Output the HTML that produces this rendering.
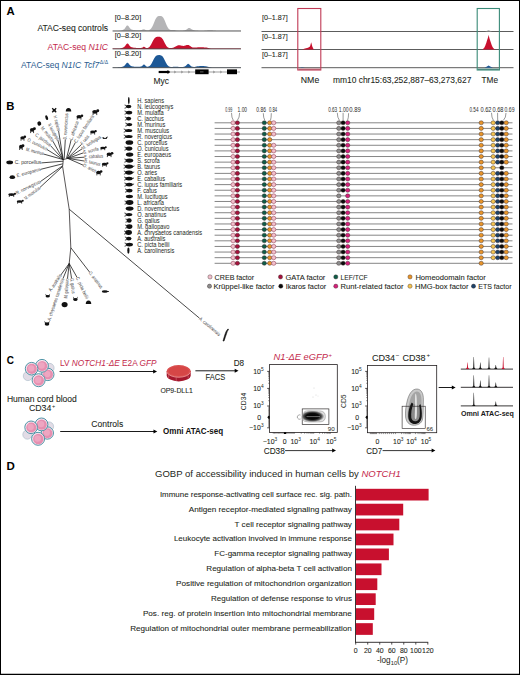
<!DOCTYPE html>
<html><head><meta charset="utf-8"><title>Figure</title>
<style>
html,body{margin:0;padding:0;background:#fff;}
body{width:520px;height:675px;overflow:hidden;}
svg{display:block;font-family:"Liberation Sans", sans-serif;}
</style></head><body>
<svg width="520" height="675" viewBox="0 0 520 675">
<rect x="0" y="0" width="520" height="675" fill="#fff"/>
<text x="6.60" y="14.60" font-size="11.3" fill="#000" font-weight="bold">A</text>
<text x="108.10" y="31.40" font-size="8.5" fill="#231f20" stroke="#231f20" stroke-width="0.08" text-anchor="end" textLength="70.70" lengthAdjust="spacingAndGlyphs">ATAC-seq controls</text>
<text x="108.1" y="49.9" font-size="8.5" fill="#c3284a" text-anchor="end" textLength="60.5" lengthAdjust="spacingAndGlyphs">ATAC-seq <tspan font-style="italic">N1IC</tspan></text>
<text x="21.0" y="67.9" font-size="8.4" fill="#2a5d8f" textLength="78.4" lengthAdjust="spacingAndGlyphs">ATAC-seq <tspan font-style="italic">N1IC Tcf7</tspan></text>
<text x="99.80" y="64.30" font-size="5.6" fill="#2a5d8f" textLength="8.30" lengthAdjust="spacingAndGlyphs">Δ/Δ</text>
<text x="114.80" y="19.60" font-size="7.7" fill="#231f20" stroke="#231f20" stroke-width="0.08" textLength="26.40" lengthAdjust="spacingAndGlyphs">[0–8.20]</text>
<text x="114.80" y="37.70" font-size="7.7" fill="#231f20" stroke="#231f20" stroke-width="0.08" textLength="26.40" lengthAdjust="spacingAndGlyphs">[0–8.20]</text>
<text x="114.80" y="56.30" font-size="7.7" fill="#231f20" stroke="#231f20" stroke-width="0.08" textLength="26.40" lengthAdjust="spacingAndGlyphs">[0–8.20]</text>
<polygon points="112.60,31.00 112.60,30.70 113.10,30.70 113.60,30.70 114.10,30.70 114.60,30.70 115.10,30.70 115.60,30.70 116.10,30.70 116.60,30.70 117.10,30.69 117.60,30.69 118.10,30.68 118.60,30.67 119.10,30.65 119.60,30.62 120.10,30.58 120.60,30.52 121.10,30.45 121.60,30.34 122.10,30.21 122.60,30.04 123.10,29.83 123.60,29.55 124.10,29.18 124.60,28.69 125.10,28.06 125.60,27.32 126.10,26.54 126.60,25.87 127.10,25.45 127.60,25.40 128.10,25.72 128.60,26.32 129.10,27.05 129.60,27.77 130.10,28.38 130.60,28.85 131.10,29.19 131.60,29.45 132.10,29.63 132.60,29.77 133.10,29.88 133.60,29.97 134.10,30.04 134.60,30.09 135.10,30.12 135.60,30.15 136.10,30.17 136.60,30.18 137.10,30.18 137.60,30.19 138.10,30.19 138.60,30.19 139.10,30.18 139.60,30.17 140.10,30.14 140.60,30.09 141.10,30.01 141.60,29.88 142.10,29.72 142.60,29.55 143.10,29.41 143.60,29.34 144.10,29.37 144.60,29.50 145.10,29.69 145.60,29.89 146.10,30.07 146.60,30.20 147.10,30.27 147.60,30.29 148.10,30.26 148.60,30.19 149.10,30.05 149.60,29.84 150.10,29.54 150.60,29.12 151.10,28.57 151.60,27.87 152.10,27.01 152.60,26.02 153.10,24.90 153.60,23.71 154.10,22.48 154.60,21.27 155.10,20.12 155.60,19.08 156.10,18.19 156.60,17.45 157.10,16.87 157.60,16.45 158.10,16.17 158.60,16.00 159.10,15.92 159.60,15.90 160.10,15.90 160.60,15.93 161.10,16.03 161.60,16.21 162.10,16.52 162.60,16.97 163.10,17.58 163.60,18.35 164.10,19.28 164.60,20.34 165.10,21.51 165.60,22.73 166.10,23.95 166.60,25.13 167.10,26.22 167.60,27.19 168.10,28.01 168.60,28.66 169.10,29.17 169.60,29.53 170.10,29.77 170.60,29.90 171.10,29.96 171.60,29.97 172.10,29.95 172.60,29.93 173.10,29.92 173.60,29.93 174.10,29.97 174.60,30.05 175.10,30.14 175.60,30.25 176.10,30.35 176.60,30.44 177.10,30.51 177.60,30.57 178.10,30.60 178.60,30.62 179.10,30.63 179.60,30.62 180.10,30.61 180.60,30.59 181.10,30.56 181.60,30.53 182.10,30.49 182.60,30.44 183.10,30.38 183.60,30.32 184.10,30.24 184.60,30.15 185.10,30.04 185.60,29.89 186.10,29.68 186.60,29.41 187.10,29.07 187.60,28.68 188.10,28.32 188.60,28.03 189.10,27.90 189.60,27.96 190.10,28.19 190.60,28.53 191.10,28.92 191.60,29.28 192.10,29.58 192.60,29.81 193.10,29.99 193.60,30.11 194.10,30.21 194.60,30.29 195.10,30.36 195.60,30.42 196.10,30.47 196.60,30.52 197.10,30.56 197.60,30.59 198.10,30.62 198.60,30.64 199.10,30.65 199.60,30.66 200.10,30.67 200.60,30.68 201.10,30.68 201.60,30.68 202.10,30.68 202.60,30.67 203.10,30.66 203.60,30.65 204.10,30.63 204.60,30.60 205.10,30.57 205.60,30.53 206.10,30.49 206.60,30.44 207.10,30.39 207.60,30.34 208.10,30.29 208.60,30.25 209.10,30.22 209.60,30.20 210.10,30.20 210.60,30.21 211.10,30.23 211.60,30.27 212.10,30.31 212.60,30.36 213.10,30.41 213.60,30.46 214.10,30.50 214.60,30.55 215.10,30.58 215.60,30.61 216.10,30.64 216.60,30.66 217.10,30.67 217.60,30.68 218.10,30.69 218.60,30.69 219.10,30.69 219.60,30.70 220.10,30.70 220.60,30.70 221.10,30.70 221.60,30.70 222.10,30.70 222.60,30.70 223.10,30.70 223.60,30.70 224.10,30.70 224.60,30.70 225.10,30.70 225.60,30.70 226.10,30.70 226.60,30.70 227.10,30.70 227.60,30.70 228.10,30.70 228.60,30.70 229.10,30.70 229.60,30.70 230.10,30.70 230.60,30.70 231.10,30.70 231.60,30.70 232.10,30.70 232.60,30.70 233.10,30.70 233.60,30.70 234.10,30.70 234.60,30.70 235.10,30.70 235.60,30.70 236.10,30.70 236.60,30.70 237.10,30.70 237.60,30.70 238.10,30.70 238.60,30.70 239.10,30.70 239.60,30.70 240.10,30.70 240.60,30.70 241.00,31.00" fill="#b4b4b6" stroke="none" stroke-width="0"/>
<polygon points="112.60,48.90 112.60,48.55 113.10,48.55 113.60,48.55 114.10,48.55 114.60,48.55 115.10,48.55 115.60,48.55 116.10,48.55 116.60,48.54 117.10,48.54 117.60,48.53 118.10,48.52 118.60,48.50 119.10,48.47 119.60,48.43 120.10,48.38 120.60,48.31 121.10,48.22 121.60,48.10 122.10,47.96 122.60,47.79 123.10,47.57 123.60,47.30 124.10,46.95 124.60,46.49 125.10,45.91 125.60,45.22 126.10,44.51 126.60,43.89 127.10,43.52 127.60,43.48 128.10,43.79 128.60,44.36 129.10,45.05 129.60,45.72 130.10,46.28 130.60,46.70 131.10,47.00 131.60,47.21 132.10,47.36 132.60,47.48 133.10,47.57 133.60,47.66 134.10,47.72 134.60,47.78 135.10,47.83 135.60,47.86 136.10,47.89 136.60,47.91 137.10,47.92 137.60,47.93 138.10,47.93 138.60,47.93 139.10,47.94 139.60,47.94 140.10,47.95 140.60,47.96 141.10,47.94 141.60,47.85 142.10,47.67 142.60,47.38 143.10,47.04 143.60,46.78 144.10,46.73 144.60,46.93 145.10,47.28 145.60,47.65 146.10,47.92 146.60,48.05 147.10,48.06 147.60,47.97 148.10,47.79 148.60,47.53 149.10,47.16 149.60,46.67 150.10,46.06 150.60,45.32 151.10,44.47 151.60,43.53 152.10,42.55 152.60,41.56 153.10,40.61 153.60,39.73 154.10,38.96 154.60,38.31 155.10,37.79 155.60,37.40 156.10,37.12 156.60,36.93 157.10,36.82 157.60,36.77 158.10,36.75 158.60,36.75 159.10,36.77 159.60,36.82 160.10,36.94 160.60,37.13 161.10,37.43 161.60,37.84 162.10,38.38 162.60,39.05 163.10,39.85 163.60,40.74 164.10,41.70 164.60,42.69 165.10,43.66 165.60,44.59 166.10,45.42 166.60,46.13 167.10,46.72 167.60,47.17 168.10,47.51 168.60,47.75 169.10,47.91 169.60,48.01 170.10,48.06 170.60,48.08 171.10,48.06 171.60,48.01 172.10,47.92 172.60,47.81 173.10,47.66 173.60,47.48 174.10,47.26 174.60,47.02 175.10,46.75 175.60,46.47 176.10,46.20 176.60,45.93 177.10,45.69 177.60,45.50 178.10,45.35 178.60,45.25 179.10,45.21 179.60,45.23 180.10,45.30 180.60,45.40 181.10,45.53 181.60,45.66 182.10,45.78 182.60,45.87 183.10,45.92 183.60,45.92 184.10,45.85 184.60,45.73 185.10,45.57 185.60,45.38 186.10,45.19 186.60,45.03 187.10,44.92 187.60,44.89 188.10,44.95 188.60,45.11 189.10,45.35 189.60,45.66 190.10,46.01 190.60,46.37 191.10,46.71 191.60,47.00 192.10,47.23 192.60,47.40 193.10,47.51 193.60,47.56 194.10,47.57 194.60,47.55 195.10,47.52 195.60,47.48 196.10,47.44 196.60,47.41 197.10,47.39 197.60,47.37 198.10,47.36 198.60,47.35 199.10,47.35 199.60,47.35 200.10,47.35 200.60,47.35 201.10,47.35 201.60,47.35 202.10,47.35 202.60,47.35 203.10,47.36 203.60,47.36 204.10,47.38 204.60,47.40 205.10,47.43 205.60,47.47 206.10,47.53 206.60,47.61 207.10,47.69 207.60,47.79 208.10,47.90 208.60,48.02 209.10,48.13 209.60,48.23 210.10,48.33 210.60,48.40 211.10,48.46 211.60,48.49 212.10,48.52 212.60,48.54 213.10,48.54 213.60,48.55 214.10,48.55 214.60,48.55 215.10,48.55 215.60,48.55 216.10,48.55 216.60,48.55 217.10,48.55 217.60,48.55 218.10,48.55 218.60,48.55 219.10,48.55 219.60,48.55 220.10,48.55 220.60,48.55 221.10,48.55 221.60,48.55 222.10,48.55 222.60,48.55 223.10,48.55 223.60,48.55 224.10,48.55 224.60,48.55 225.10,48.55 225.60,48.55 226.10,48.55 226.60,48.55 227.10,48.55 227.60,48.55 228.10,48.55 228.60,48.55 229.10,48.55 229.60,48.55 230.10,48.55 230.60,48.55 231.10,48.55 231.60,48.55 232.10,48.55 232.60,48.55 233.10,48.55 233.60,48.55 234.10,48.55 234.60,48.55 235.10,48.55 235.60,48.55 236.10,48.55 236.60,48.55 237.10,48.55 237.60,48.55 238.10,48.55 238.60,48.55 239.10,48.55 239.60,48.55 240.10,48.55 240.60,48.55 241.00,48.90" fill="#c8102e" stroke="none" stroke-width="0"/>
<polygon points="112.60,67.70 112.60,67.40 113.10,67.40 113.60,67.40 114.10,67.40 114.60,67.40 115.10,67.40 115.60,67.40 116.10,67.40 116.60,67.39 117.10,67.39 117.60,67.38 118.10,67.37 118.60,67.35 119.10,67.33 119.60,67.29 120.10,67.24 120.60,67.18 121.10,67.10 121.60,66.99 122.10,66.86 122.60,66.70 123.10,66.51 123.60,66.26 124.10,65.93 124.60,65.51 125.10,64.98 125.60,64.34 126.10,63.68 126.60,63.11 127.10,62.76 127.60,62.73 128.10,63.01 128.60,63.54 129.10,64.18 129.60,64.81 130.10,65.33 130.60,65.72 131.10,66.00 131.60,66.20 132.10,66.35 132.60,66.46 133.10,66.55 133.60,66.62 134.10,66.69 134.60,66.74 135.10,66.78 135.60,66.81 136.10,66.83 136.60,66.83 137.10,66.83 137.60,66.82 138.10,66.80 138.60,66.77 139.10,66.73 139.60,66.69 140.10,66.64 140.60,66.58 141.10,66.47 141.60,66.27 142.10,65.93 142.60,65.45 143.10,64.91 143.60,64.51 144.10,64.42 144.60,64.69 145.10,65.21 145.60,65.77 146.10,66.22 146.60,66.50 147.10,66.64 147.60,66.67 148.10,66.62 148.60,66.51 149.10,66.31 149.60,66.01 150.10,65.58 150.60,65.01 151.10,64.31 151.60,63.48 152.10,62.54 152.60,61.53 153.10,60.50 153.60,59.48 154.10,58.54 154.60,57.68 155.10,56.95 155.60,56.36 156.10,55.90 156.60,55.56 157.10,55.34 157.60,55.20 158.10,55.13 158.60,55.10 159.10,55.10 159.60,55.11 160.10,55.15 160.60,55.25 161.10,55.42 161.60,55.68 162.10,56.07 162.60,56.58 163.10,57.23 163.60,58.01 164.10,58.91 164.60,59.89 165.10,60.92 165.60,61.95 166.10,62.94 166.60,63.85 167.10,64.64 167.60,65.31 168.10,65.83 168.60,66.23 169.10,66.52 169.60,66.71 170.10,66.83 170.60,66.90 171.10,66.93 171.60,66.94 172.10,66.93 172.60,66.90 173.10,66.87 173.60,66.83 174.10,66.80 174.60,66.77 175.10,66.75 175.60,66.74 176.10,66.74 176.60,66.76 177.10,66.78 177.60,66.82 178.10,66.87 178.60,66.91 179.10,66.96 179.60,67.00 180.10,67.03 180.60,67.04 181.10,67.05 181.60,67.03 182.10,67.01 182.60,66.96 183.10,66.90 183.60,66.82 184.10,66.69 184.60,66.52 185.10,66.25 185.60,65.89 186.10,65.43 186.60,64.90 187.10,64.38 187.60,63.99 188.10,63.81 188.60,63.88 189.10,64.21 189.60,64.69 190.10,65.22 190.60,65.72 191.10,66.13 191.60,66.43 192.10,66.64 192.60,66.78 193.10,66.87 193.60,66.91 194.10,66.91 194.60,66.88 195.10,66.81 195.60,66.71 196.10,66.60 196.60,66.48 197.10,66.37 197.60,66.28 198.10,66.21 198.60,66.16 199.10,66.13 199.60,66.11 200.10,66.10 200.60,66.09 201.10,66.09 201.60,66.10 202.10,66.10 202.60,66.10 203.10,66.10 203.60,66.10 204.10,66.11 204.60,66.13 205.10,66.17 205.60,66.22 206.10,66.29 206.60,66.39 207.10,66.51 207.60,66.65 208.10,66.80 208.60,66.95 209.10,67.09 209.60,67.20 210.10,67.28 210.60,67.34 211.10,67.37 211.60,67.39 212.10,67.40 212.60,67.40 213.10,67.40 213.60,67.40 214.10,67.40 214.60,67.40 215.10,67.40 215.60,67.40 216.10,67.40 216.60,67.40 217.10,67.40 217.60,67.40 218.10,67.40 218.60,67.40 219.10,67.40 219.60,67.40 220.10,67.40 220.60,67.40 221.10,67.40 221.60,67.40 222.10,67.40 222.60,67.40 223.10,67.40 223.60,67.40 224.10,67.40 224.60,67.40 225.10,67.40 225.60,67.40 226.10,67.40 226.60,67.40 227.10,67.40 227.60,67.40 228.10,67.40 228.60,67.40 229.10,67.40 229.60,67.40 230.10,67.40 230.60,67.40 231.10,67.40 231.60,67.40 232.10,67.40 232.60,67.40 233.10,67.40 233.60,67.40 234.10,67.40 234.60,67.40 235.10,67.40 235.60,67.40 236.10,67.40 236.60,67.40 237.10,67.40 237.60,67.40 238.10,67.40 238.60,67.40 239.10,67.40 239.60,67.40 240.10,67.40 240.60,67.40 241.00,67.70" fill="#1d5896" stroke="none" stroke-width="0"/>
<line x1="112.60" y1="31.00" x2="241.00" y2="31.00" stroke="#4a4a4a" stroke-width="0.9"/>
<line x1="112.60" y1="48.90" x2="241.00" y2="48.90" stroke="#4a4a4a" stroke-width="0.9"/>
<line x1="112.60" y1="67.70" x2="241.00" y2="67.70" stroke="#4a4a4a" stroke-width="0.9"/>
<line x1="158.70" y1="72.00" x2="240.00" y2="72.00" stroke="#777" stroke-width="0.7"/>
<path d="M174.0,70.9 L175.6,72 L174.0,73.1" fill="none" stroke="#555" stroke-width="0.5"/>
<path d="M181.0,70.9 L182.6,72 L181.0,73.1" fill="none" stroke="#555" stroke-width="0.5"/>
<path d="M188.0,70.9 L189.6,72 L188.0,73.1" fill="none" stroke="#555" stroke-width="0.5"/>
<path d="M213.0,70.9 L214.6,72 L213.0,73.1" fill="none" stroke="#555" stroke-width="0.5"/>
<path d="M220.0,70.9 L221.6,72 L220.0,73.1" fill="none" stroke="#555" stroke-width="0.5"/>
<rect x="158.7" y="70.9" width="10.5" height="2.2" fill="#000"/>
<path d="M167.5,70 L170.2,72 L167.5,74 Z" fill="#000"/>
<rect x="195.2" y="69.4" width="13.4" height="4.8" fill="#000"/>
<rect x="227.0" y="69.4" width="10.0" height="4.8" fill="#000"/>
<line x1="200.00" y1="71.90" x2="203.50" y2="71.90" stroke="#bbb" stroke-width="0.5"/>
<text x="153.50" y="83.50" font-size="8.4" fill="#231f20" stroke="#231f20" stroke-width="0.08" textLength="15.50" lengthAdjust="spacingAndGlyphs">Myc</text>
<line x1="261.50" y1="31.50" x2="513.50" y2="31.50" stroke="#4a4a4a" stroke-width="0.9"/>
<line x1="261.50" y1="49.50" x2="513.50" y2="49.50" stroke="#4a4a4a" stroke-width="0.9"/>
<line x1="261.50" y1="67.70" x2="513.50" y2="67.70" stroke="#4a4a4a" stroke-width="0.9"/>
<text x="261.90" y="20.30" font-size="7.7" fill="#231f20" stroke="#231f20" stroke-width="0.08" textLength="25.90" lengthAdjust="spacingAndGlyphs">[0–1.87]</text>
<text x="261.90" y="38.50" font-size="7.7" fill="#231f20" stroke="#231f20" stroke-width="0.08" textLength="25.90" lengthAdjust="spacingAndGlyphs">[0–1.87]</text>
<text x="261.90" y="56.70" font-size="7.7" fill="#231f20" stroke="#231f20" stroke-width="0.08" textLength="25.90" lengthAdjust="spacingAndGlyphs">[0–1.87]</text>
<polygon points="300.00,67.70 302.00,67.20 305.00,67.70 320.00,67.70" fill="#1d5896" stroke="none" stroke-width="0"/>
<polygon points="302.00,49.50 305.00,48.60 308.00,47.80 310.00,46.50 311.20,42.30 312.30,46.50 313.50,49.00 314.50,49.50" fill="#c8102e" stroke="none" stroke-width="0"/>
<polygon points="482.50,49.50 482.50,49.17 482.75,49.07 483.00,48.93 483.25,48.76 483.50,48.56 483.75,48.31 484.00,48.01 484.25,47.66 484.50,47.25 484.75,46.78 485.00,46.26 485.25,45.68 485.50,45.04 485.75,44.36 486.00,43.64 486.25,42.89 486.50,42.13 486.75,41.36 487.00,40.59 487.25,39.82 487.50,39.05 487.75,38.26 488.00,37.40 488.25,36.39 488.50,35.12 488.75,35.41 489.00,36.61 489.25,37.58 489.50,38.42 489.75,39.20 490.00,39.97 490.25,40.74 490.50,41.51 490.75,42.28 491.00,43.04 491.25,43.79 491.50,44.50 491.75,45.17 492.00,45.80 492.25,46.37 492.50,46.88 492.75,47.34 493.00,47.73 493.25,48.07 493.50,48.36 493.75,48.60 494.00,48.80 494.25,48.96 494.50,49.09 494.75,49.19 495.00,49.27 495.25,49.33 495.50,49.38 495.50,49.50" fill="#c8102e" stroke="none" stroke-width="0"/>
<polygon points="485.00,31.50 488.60,30.20 492.00,31.50" fill="#9a9a9a" stroke="none" stroke-width="0"/>
<polygon points="484.50,67.70 487.00,66.60 488.60,65.40 490.20,66.60 493.00,67.70" fill="#1d5896" stroke="none" stroke-width="0"/>
<rect x="297.8" y="8.5" width="23" height="61.5" fill="none" stroke="#c03a55" stroke-width="1.1"/>
<rect x="477.2" y="8.5" width="22.2" height="61.5" fill="none" stroke="#3a8a78" stroke-width="1.1"/>
<line x1="298.50" y1="69.20" x2="320.20" y2="69.20" stroke="#b25060" stroke-width="1.2"/>
<line x1="478.00" y1="69.20" x2="498.80" y2="69.20" stroke="#3a7a70" stroke-width="1.2"/>
<text x="300.80" y="82.50" font-size="8.4" fill="#231f20" stroke="#231f20" stroke-width="0.08" textLength="18.50" lengthAdjust="spacingAndGlyphs">NMe</text>
<text x="332.90" y="83.30" font-size="8.4" fill="#231f20" stroke="#231f20" stroke-width="0.08" textLength="138.50" lengthAdjust="spacingAndGlyphs">mm10 chr15:63,252,887–63,273,627</text>
<text x="481.50" y="82.50" font-size="8.3" fill="#231f20" stroke="#231f20" stroke-width="0.08" textLength="16.50" lengthAdjust="spacingAndGlyphs">TMe</text>
<text x="6.30" y="109.90" font-size="11.3" fill="#000" font-weight="bold">B</text>
<line x1="214.60" y1="122.80" x2="512.50" y2="122.80" stroke="#808080" stroke-width="0.95"/>
<ellipse cx="233.10" cy="122.80" rx="2.15" ry="2.05" fill="#f1bfcb" stroke="#9a4a5e" stroke-width="0.6"/>
<ellipse cx="237.40" cy="122.80" rx="2.15" ry="2.05" fill="#a5123c" stroke="#3a2a2a" stroke-width="0.45"/>
<ellipse cx="264.30" cy="122.80" rx="2.15" ry="2.05" fill="#0e5c48" stroke="#3a2a2a" stroke-width="0.45"/>
<ellipse cx="269.70" cy="122.80" rx="2.15" ry="2.05" fill="#e8952a" stroke="#3a2a2a" stroke-width="0.45"/>
<ellipse cx="273.70" cy="122.80" rx="2.15" ry="2.05" fill="#f1bfcb" stroke="#9a4a5e" stroke-width="0.6"/>
<ellipse cx="338.80" cy="122.80" rx="2.15" ry="2.05" fill="#8c8c8c" stroke="#3a2a2a" stroke-width="0.45"/>
<ellipse cx="343.10" cy="122.80" rx="2.15" ry="2.05" fill="#0a0a0a" stroke="#3a2a2a" stroke-width="0.45"/>
<ellipse cx="347.70" cy="122.80" rx="2.15" ry="2.05" fill="#d4207a" stroke="#3a2a2a" stroke-width="0.45"/>
<ellipse cx="481.20" cy="122.80" rx="2.15" ry="2.05" fill="#e8952a" stroke="#3a2a2a" stroke-width="0.45"/>
<ellipse cx="493.20" cy="122.80" rx="2.15" ry="2.05" fill="#f3c350" stroke="#3a2a2a" stroke-width="0.45"/>
<ellipse cx="497.70" cy="122.80" rx="2.15" ry="2.05" fill="#1c4269" stroke="#3a2a2a" stroke-width="0.45"/>
<ellipse cx="501.80" cy="122.80" rx="2.15" ry="2.05" fill="#0a0a0a" stroke="#3a2a2a" stroke-width="0.45"/>
<ellipse cx="506.20" cy="122.80" rx="2.15" ry="2.05" fill="#e8952a" stroke="#3a2a2a" stroke-width="0.45"/>
<line x1="214.60" y1="128.42" x2="512.50" y2="128.42" stroke="#808080" stroke-width="0.95"/>
<ellipse cx="233.10" cy="128.42" rx="2.15" ry="2.05" fill="#f1bfcb" stroke="#9a4a5e" stroke-width="0.6"/>
<ellipse cx="237.40" cy="128.42" rx="2.15" ry="2.05" fill="#a5123c" stroke="#3a2a2a" stroke-width="0.45"/>
<ellipse cx="264.30" cy="128.42" rx="2.15" ry="2.05" fill="#0e5c48" stroke="#3a2a2a" stroke-width="0.45"/>
<ellipse cx="269.70" cy="128.42" rx="2.15" ry="2.05" fill="#e8952a" stroke="#3a2a2a" stroke-width="0.45"/>
<ellipse cx="273.70" cy="128.42" rx="2.15" ry="2.05" fill="#f1bfcb" stroke="#9a4a5e" stroke-width="0.6"/>
<ellipse cx="338.80" cy="128.42" rx="2.15" ry="2.05" fill="#8c8c8c" stroke="#3a2a2a" stroke-width="0.45"/>
<ellipse cx="343.10" cy="128.42" rx="2.15" ry="2.05" fill="#0a0a0a" stroke="#3a2a2a" stroke-width="0.45"/>
<ellipse cx="347.70" cy="128.42" rx="2.15" ry="2.05" fill="#d4207a" stroke="#3a2a2a" stroke-width="0.45"/>
<ellipse cx="481.20" cy="128.42" rx="2.15" ry="2.05" fill="#e8952a" stroke="#3a2a2a" stroke-width="0.45"/>
<ellipse cx="493.20" cy="128.42" rx="2.15" ry="2.05" fill="#f3c350" stroke="#3a2a2a" stroke-width="0.45"/>
<ellipse cx="497.70" cy="128.42" rx="2.15" ry="2.05" fill="#1c4269" stroke="#3a2a2a" stroke-width="0.45"/>
<ellipse cx="501.80" cy="128.42" rx="2.15" ry="2.05" fill="#0a0a0a" stroke="#3a2a2a" stroke-width="0.45"/>
<ellipse cx="506.20" cy="128.42" rx="2.15" ry="2.05" fill="#e8952a" stroke="#3a2a2a" stroke-width="0.45"/>
<line x1="214.60" y1="134.04" x2="512.50" y2="134.04" stroke="#808080" stroke-width="0.95"/>
<ellipse cx="233.10" cy="134.04" rx="2.15" ry="2.05" fill="#f1bfcb" stroke="#9a4a5e" stroke-width="0.6"/>
<ellipse cx="237.40" cy="134.04" rx="2.15" ry="2.05" fill="#a5123c" stroke="#3a2a2a" stroke-width="0.45"/>
<ellipse cx="264.30" cy="134.04" rx="2.15" ry="2.05" fill="#0e5c48" stroke="#3a2a2a" stroke-width="0.45"/>
<ellipse cx="269.70" cy="134.04" rx="2.15" ry="2.05" fill="#e8952a" stroke="#3a2a2a" stroke-width="0.45"/>
<ellipse cx="273.70" cy="134.04" rx="2.15" ry="2.05" fill="#f1bfcb" stroke="#9a4a5e" stroke-width="0.6"/>
<ellipse cx="338.80" cy="134.04" rx="2.15" ry="2.05" fill="#8c8c8c" stroke="#3a2a2a" stroke-width="0.45"/>
<ellipse cx="343.10" cy="134.04" rx="2.15" ry="2.05" fill="#0a0a0a" stroke="#3a2a2a" stroke-width="0.45"/>
<ellipse cx="347.70" cy="134.04" rx="2.15" ry="2.05" fill="#d4207a" stroke="#3a2a2a" stroke-width="0.45"/>
<ellipse cx="481.20" cy="134.04" rx="2.15" ry="2.05" fill="#e8952a" stroke="#3a2a2a" stroke-width="0.45"/>
<ellipse cx="493.20" cy="134.04" rx="2.15" ry="2.05" fill="#f3c350" stroke="#3a2a2a" stroke-width="0.45"/>
<ellipse cx="497.70" cy="134.04" rx="2.15" ry="2.05" fill="#1c4269" stroke="#3a2a2a" stroke-width="0.45"/>
<ellipse cx="501.80" cy="134.04" rx="2.15" ry="2.05" fill="#0a0a0a" stroke="#3a2a2a" stroke-width="0.45"/>
<ellipse cx="506.20" cy="134.04" rx="2.15" ry="2.05" fill="#e8952a" stroke="#3a2a2a" stroke-width="0.45"/>
<line x1="214.60" y1="139.66" x2="512.50" y2="139.66" stroke="#808080" stroke-width="0.95"/>
<ellipse cx="233.10" cy="139.66" rx="2.15" ry="2.05" fill="#f1bfcb" stroke="#9a4a5e" stroke-width="0.6"/>
<ellipse cx="237.40" cy="139.66" rx="2.15" ry="2.05" fill="#a5123c" stroke="#3a2a2a" stroke-width="0.45"/>
<ellipse cx="264.30" cy="139.66" rx="2.15" ry="2.05" fill="#0e5c48" stroke="#3a2a2a" stroke-width="0.45"/>
<ellipse cx="269.70" cy="139.66" rx="2.15" ry="2.05" fill="#e8952a" stroke="#3a2a2a" stroke-width="0.45"/>
<ellipse cx="338.80" cy="139.66" rx="2.15" ry="2.05" fill="#8c8c8c" stroke="#3a2a2a" stroke-width="0.45"/>
<ellipse cx="343.10" cy="139.66" rx="2.15" ry="2.05" fill="#0a0a0a" stroke="#3a2a2a" stroke-width="0.45"/>
<ellipse cx="347.70" cy="139.66" rx="2.15" ry="2.05" fill="#d4207a" stroke="#3a2a2a" stroke-width="0.45"/>
<ellipse cx="481.20" cy="139.66" rx="2.15" ry="2.05" fill="#e8952a" stroke="#3a2a2a" stroke-width="0.45"/>
<ellipse cx="493.20" cy="139.66" rx="2.15" ry="2.05" fill="#f3c350" stroke="#3a2a2a" stroke-width="0.45"/>
<ellipse cx="497.70" cy="139.66" rx="2.15" ry="2.05" fill="#1c4269" stroke="#3a2a2a" stroke-width="0.45"/>
<ellipse cx="501.80" cy="139.66" rx="2.15" ry="2.05" fill="#0a0a0a" stroke="#3a2a2a" stroke-width="0.45"/>
<ellipse cx="506.20" cy="139.66" rx="2.15" ry="2.05" fill="#e8952a" stroke="#3a2a2a" stroke-width="0.45"/>
<line x1="214.60" y1="145.28" x2="512.50" y2="145.28" stroke="#808080" stroke-width="0.95"/>
<ellipse cx="233.10" cy="145.28" rx="2.15" ry="2.05" fill="#f1bfcb" stroke="#9a4a5e" stroke-width="0.6"/>
<ellipse cx="237.40" cy="145.28" rx="2.15" ry="2.05" fill="#a5123c" stroke="#3a2a2a" stroke-width="0.45"/>
<ellipse cx="264.30" cy="145.28" rx="2.15" ry="2.05" fill="#0e5c48" stroke="#3a2a2a" stroke-width="0.45"/>
<ellipse cx="269.70" cy="145.28" rx="2.15" ry="2.05" fill="#e8952a" stroke="#3a2a2a" stroke-width="0.45"/>
<ellipse cx="273.70" cy="145.28" rx="2.15" ry="2.05" fill="#f1bfcb" stroke="#9a4a5e" stroke-width="0.6"/>
<ellipse cx="338.80" cy="145.28" rx="2.15" ry="2.05" fill="#8c8c8c" stroke="#3a2a2a" stroke-width="0.45"/>
<ellipse cx="343.10" cy="145.28" rx="2.15" ry="2.05" fill="#0a0a0a" stroke="#3a2a2a" stroke-width="0.45"/>
<ellipse cx="347.70" cy="145.28" rx="2.15" ry="2.05" fill="#d4207a" stroke="#3a2a2a" stroke-width="0.45"/>
<ellipse cx="481.20" cy="145.28" rx="2.15" ry="2.05" fill="#e8952a" stroke="#3a2a2a" stroke-width="0.45"/>
<ellipse cx="493.20" cy="145.28" rx="2.15" ry="2.05" fill="#f3c350" stroke="#3a2a2a" stroke-width="0.45"/>
<ellipse cx="497.70" cy="145.28" rx="2.15" ry="2.05" fill="#1c4269" stroke="#3a2a2a" stroke-width="0.45"/>
<ellipse cx="501.80" cy="145.28" rx="2.15" ry="2.05" fill="#0a0a0a" stroke="#3a2a2a" stroke-width="0.45"/>
<ellipse cx="506.20" cy="145.28" rx="2.15" ry="2.05" fill="#e8952a" stroke="#3a2a2a" stroke-width="0.45"/>
<line x1="214.60" y1="150.90" x2="512.50" y2="150.90" stroke="#808080" stroke-width="0.95"/>
<ellipse cx="233.10" cy="150.90" rx="2.15" ry="2.05" fill="#f1bfcb" stroke="#9a4a5e" stroke-width="0.6"/>
<ellipse cx="237.40" cy="150.90" rx="2.15" ry="2.05" fill="#a5123c" stroke="#3a2a2a" stroke-width="0.45"/>
<ellipse cx="264.30" cy="150.90" rx="2.15" ry="2.05" fill="#0e5c48" stroke="#3a2a2a" stroke-width="0.45"/>
<ellipse cx="269.70" cy="150.90" rx="2.15" ry="2.05" fill="#e8952a" stroke="#3a2a2a" stroke-width="0.45"/>
<ellipse cx="273.70" cy="150.90" rx="2.15" ry="2.05" fill="#f1bfcb" stroke="#9a4a5e" stroke-width="0.6"/>
<ellipse cx="338.80" cy="150.90" rx="2.15" ry="2.05" fill="#8c8c8c" stroke="#3a2a2a" stroke-width="0.45"/>
<ellipse cx="343.10" cy="150.90" rx="2.15" ry="2.05" fill="#0a0a0a" stroke="#3a2a2a" stroke-width="0.45"/>
<ellipse cx="347.70" cy="150.90" rx="2.15" ry="2.05" fill="#d4207a" stroke="#3a2a2a" stroke-width="0.45"/>
<ellipse cx="481.20" cy="150.90" rx="2.15" ry="2.05" fill="#e8952a" stroke="#3a2a2a" stroke-width="0.45"/>
<ellipse cx="493.20" cy="150.90" rx="2.15" ry="2.05" fill="#f3c350" stroke="#3a2a2a" stroke-width="0.45"/>
<ellipse cx="497.70" cy="150.90" rx="2.15" ry="2.05" fill="#1c4269" stroke="#3a2a2a" stroke-width="0.45"/>
<ellipse cx="501.80" cy="150.90" rx="2.15" ry="2.05" fill="#0a0a0a" stroke="#3a2a2a" stroke-width="0.45"/>
<ellipse cx="506.20" cy="150.90" rx="2.15" ry="2.05" fill="#e8952a" stroke="#3a2a2a" stroke-width="0.45"/>
<line x1="214.60" y1="156.52" x2="512.50" y2="156.52" stroke="#808080" stroke-width="0.95"/>
<ellipse cx="233.10" cy="156.52" rx="2.15" ry="2.05" fill="#f1bfcb" stroke="#9a4a5e" stroke-width="0.6"/>
<ellipse cx="237.40" cy="156.52" rx="2.15" ry="2.05" fill="#a5123c" stroke="#3a2a2a" stroke-width="0.45"/>
<ellipse cx="264.30" cy="156.52" rx="2.15" ry="2.05" fill="#0e5c48" stroke="#3a2a2a" stroke-width="0.45"/>
<ellipse cx="269.70" cy="156.52" rx="2.15" ry="2.05" fill="#e8952a" stroke="#3a2a2a" stroke-width="0.45"/>
<ellipse cx="273.70" cy="156.52" rx="2.15" ry="2.05" fill="#f1bfcb" stroke="#9a4a5e" stroke-width="0.6"/>
<ellipse cx="338.80" cy="156.52" rx="2.15" ry="2.05" fill="#8c8c8c" stroke="#3a2a2a" stroke-width="0.45"/>
<ellipse cx="343.10" cy="156.52" rx="2.15" ry="2.05" fill="#0a0a0a" stroke="#3a2a2a" stroke-width="0.45"/>
<ellipse cx="347.70" cy="156.52" rx="2.15" ry="2.05" fill="#d4207a" stroke="#3a2a2a" stroke-width="0.45"/>
<ellipse cx="481.20" cy="156.52" rx="2.15" ry="2.05" fill="#e8952a" stroke="#3a2a2a" stroke-width="0.45"/>
<ellipse cx="493.20" cy="156.52" rx="2.15" ry="2.05" fill="#f3c350" stroke="#3a2a2a" stroke-width="0.45"/>
<ellipse cx="497.70" cy="156.52" rx="2.15" ry="2.05" fill="#1c4269" stroke="#3a2a2a" stroke-width="0.45"/>
<ellipse cx="501.80" cy="156.52" rx="2.15" ry="2.05" fill="#0a0a0a" stroke="#3a2a2a" stroke-width="0.45"/>
<ellipse cx="506.20" cy="156.52" rx="2.15" ry="2.05" fill="#e8952a" stroke="#3a2a2a" stroke-width="0.45"/>
<line x1="214.60" y1="162.14" x2="512.50" y2="162.14" stroke="#808080" stroke-width="0.95"/>
<ellipse cx="233.10" cy="162.14" rx="2.15" ry="2.05" fill="#f1bfcb" stroke="#9a4a5e" stroke-width="0.6"/>
<ellipse cx="237.40" cy="162.14" rx="2.15" ry="2.05" fill="#a5123c" stroke="#3a2a2a" stroke-width="0.45"/>
<ellipse cx="264.30" cy="162.14" rx="2.15" ry="2.05" fill="#0e5c48" stroke="#3a2a2a" stroke-width="0.45"/>
<ellipse cx="269.70" cy="162.14" rx="2.15" ry="2.05" fill="#e8952a" stroke="#3a2a2a" stroke-width="0.45"/>
<ellipse cx="273.70" cy="162.14" rx="2.15" ry="2.05" fill="#f1bfcb" stroke="#9a4a5e" stroke-width="0.6"/>
<ellipse cx="338.80" cy="162.14" rx="2.15" ry="2.05" fill="#8c8c8c" stroke="#3a2a2a" stroke-width="0.45"/>
<ellipse cx="343.10" cy="162.14" rx="2.15" ry="2.05" fill="#0a0a0a" stroke="#3a2a2a" stroke-width="0.45"/>
<ellipse cx="347.70" cy="162.14" rx="2.15" ry="2.05" fill="#d4207a" stroke="#3a2a2a" stroke-width="0.45"/>
<ellipse cx="481.20" cy="162.14" rx="2.15" ry="2.05" fill="#e8952a" stroke="#3a2a2a" stroke-width="0.45"/>
<ellipse cx="493.20" cy="162.14" rx="2.15" ry="2.05" fill="#f3c350" stroke="#3a2a2a" stroke-width="0.45"/>
<ellipse cx="497.70" cy="162.14" rx="2.15" ry="2.05" fill="#1c4269" stroke="#3a2a2a" stroke-width="0.45"/>
<ellipse cx="501.80" cy="162.14" rx="2.15" ry="2.05" fill="#0a0a0a" stroke="#3a2a2a" stroke-width="0.45"/>
<ellipse cx="506.20" cy="162.14" rx="2.15" ry="2.05" fill="#e8952a" stroke="#3a2a2a" stroke-width="0.45"/>
<line x1="214.60" y1="167.76" x2="512.50" y2="167.76" stroke="#808080" stroke-width="0.95"/>
<ellipse cx="233.10" cy="167.76" rx="2.15" ry="2.05" fill="#f1bfcb" stroke="#9a4a5e" stroke-width="0.6"/>
<ellipse cx="237.40" cy="167.76" rx="2.15" ry="2.05" fill="#a5123c" stroke="#3a2a2a" stroke-width="0.45"/>
<ellipse cx="264.30" cy="167.76" rx="2.15" ry="2.05" fill="#0e5c48" stroke="#3a2a2a" stroke-width="0.45"/>
<ellipse cx="269.70" cy="167.76" rx="2.15" ry="2.05" fill="#e8952a" stroke="#3a2a2a" stroke-width="0.45"/>
<ellipse cx="273.70" cy="167.76" rx="2.15" ry="2.05" fill="#f1bfcb" stroke="#9a4a5e" stroke-width="0.6"/>
<ellipse cx="338.80" cy="167.76" rx="2.15" ry="2.05" fill="#8c8c8c" stroke="#3a2a2a" stroke-width="0.45"/>
<ellipse cx="343.10" cy="167.76" rx="2.15" ry="2.05" fill="#0a0a0a" stroke="#3a2a2a" stroke-width="0.45"/>
<ellipse cx="347.70" cy="167.76" rx="2.15" ry="2.05" fill="#d4207a" stroke="#3a2a2a" stroke-width="0.45"/>
<ellipse cx="481.20" cy="167.76" rx="2.15" ry="2.05" fill="#e8952a" stroke="#3a2a2a" stroke-width="0.45"/>
<ellipse cx="493.20" cy="167.76" rx="2.15" ry="2.05" fill="#f3c350" stroke="#3a2a2a" stroke-width="0.45"/>
<ellipse cx="501.80" cy="167.76" rx="2.15" ry="2.05" fill="#0a0a0a" stroke="#3a2a2a" stroke-width="0.45"/>
<line x1="214.60" y1="173.38" x2="512.50" y2="173.38" stroke="#808080" stroke-width="0.95"/>
<ellipse cx="233.10" cy="173.38" rx="2.15" ry="2.05" fill="#f1bfcb" stroke="#9a4a5e" stroke-width="0.6"/>
<ellipse cx="237.40" cy="173.38" rx="2.15" ry="2.05" fill="#a5123c" stroke="#3a2a2a" stroke-width="0.45"/>
<ellipse cx="264.30" cy="173.38" rx="2.15" ry="2.05" fill="#0e5c48" stroke="#3a2a2a" stroke-width="0.45"/>
<ellipse cx="269.70" cy="173.38" rx="2.15" ry="2.05" fill="#e8952a" stroke="#3a2a2a" stroke-width="0.45"/>
<ellipse cx="273.70" cy="173.38" rx="2.15" ry="2.05" fill="#f1bfcb" stroke="#9a4a5e" stroke-width="0.6"/>
<ellipse cx="338.80" cy="173.38" rx="2.15" ry="2.05" fill="#8c8c8c" stroke="#3a2a2a" stroke-width="0.45"/>
<ellipse cx="343.10" cy="173.38" rx="2.15" ry="2.05" fill="#0a0a0a" stroke="#3a2a2a" stroke-width="0.45"/>
<ellipse cx="347.70" cy="173.38" rx="2.15" ry="2.05" fill="#d4207a" stroke="#3a2a2a" stroke-width="0.45"/>
<ellipse cx="481.20" cy="173.38" rx="2.15" ry="2.05" fill="#e8952a" stroke="#3a2a2a" stroke-width="0.45"/>
<ellipse cx="493.20" cy="173.38" rx="2.15" ry="2.05" fill="#f3c350" stroke="#3a2a2a" stroke-width="0.45"/>
<ellipse cx="497.70" cy="173.38" rx="2.15" ry="2.05" fill="#1c4269" stroke="#3a2a2a" stroke-width="0.45"/>
<ellipse cx="501.80" cy="173.38" rx="2.15" ry="2.05" fill="#0a0a0a" stroke="#3a2a2a" stroke-width="0.45"/>
<ellipse cx="506.20" cy="173.38" rx="2.15" ry="2.05" fill="#e8952a" stroke="#3a2a2a" stroke-width="0.45"/>
<line x1="214.60" y1="179.00" x2="512.50" y2="179.00" stroke="#808080" stroke-width="0.95"/>
<ellipse cx="233.10" cy="179.00" rx="2.15" ry="2.05" fill="#f1bfcb" stroke="#9a4a5e" stroke-width="0.6"/>
<ellipse cx="237.40" cy="179.00" rx="2.15" ry="2.05" fill="#a5123c" stroke="#3a2a2a" stroke-width="0.45"/>
<ellipse cx="264.30" cy="179.00" rx="2.15" ry="2.05" fill="#0e5c48" stroke="#3a2a2a" stroke-width="0.45"/>
<ellipse cx="269.70" cy="179.00" rx="2.15" ry="2.05" fill="#e8952a" stroke="#3a2a2a" stroke-width="0.45"/>
<ellipse cx="273.70" cy="179.00" rx="2.15" ry="2.05" fill="#f1bfcb" stroke="#9a4a5e" stroke-width="0.6"/>
<ellipse cx="338.80" cy="179.00" rx="2.15" ry="2.05" fill="#8c8c8c" stroke="#3a2a2a" stroke-width="0.45"/>
<ellipse cx="343.10" cy="179.00" rx="2.15" ry="2.05" fill="#0a0a0a" stroke="#3a2a2a" stroke-width="0.45"/>
<ellipse cx="347.70" cy="179.00" rx="2.15" ry="2.05" fill="#d4207a" stroke="#3a2a2a" stroke-width="0.45"/>
<ellipse cx="481.20" cy="179.00" rx="2.15" ry="2.05" fill="#e8952a" stroke="#3a2a2a" stroke-width="0.45"/>
<ellipse cx="493.20" cy="179.00" rx="2.15" ry="2.05" fill="#f3c350" stroke="#3a2a2a" stroke-width="0.45"/>
<ellipse cx="497.70" cy="179.00" rx="2.15" ry="2.05" fill="#1c4269" stroke="#3a2a2a" stroke-width="0.45"/>
<ellipse cx="501.80" cy="179.00" rx="2.15" ry="2.05" fill="#0a0a0a" stroke="#3a2a2a" stroke-width="0.45"/>
<ellipse cx="506.20" cy="179.00" rx="2.15" ry="2.05" fill="#e8952a" stroke="#3a2a2a" stroke-width="0.45"/>
<line x1="214.60" y1="184.62" x2="512.50" y2="184.62" stroke="#808080" stroke-width="0.95"/>
<ellipse cx="233.10" cy="184.62" rx="2.15" ry="2.05" fill="#f1bfcb" stroke="#9a4a5e" stroke-width="0.6"/>
<ellipse cx="237.40" cy="184.62" rx="2.15" ry="2.05" fill="#a5123c" stroke="#3a2a2a" stroke-width="0.45"/>
<ellipse cx="264.30" cy="184.62" rx="2.15" ry="2.05" fill="#0e5c48" stroke="#3a2a2a" stroke-width="0.45"/>
<ellipse cx="269.70" cy="184.62" rx="2.15" ry="2.05" fill="#e8952a" stroke="#3a2a2a" stroke-width="0.45"/>
<ellipse cx="273.70" cy="184.62" rx="2.15" ry="2.05" fill="#f1bfcb" stroke="#9a4a5e" stroke-width="0.6"/>
<ellipse cx="338.80" cy="184.62" rx="2.15" ry="2.05" fill="#8c8c8c" stroke="#3a2a2a" stroke-width="0.45"/>
<ellipse cx="343.10" cy="184.62" rx="2.15" ry="2.05" fill="#0a0a0a" stroke="#3a2a2a" stroke-width="0.45"/>
<ellipse cx="347.70" cy="184.62" rx="2.15" ry="2.05" fill="#d4207a" stroke="#3a2a2a" stroke-width="0.45"/>
<ellipse cx="481.20" cy="184.62" rx="2.15" ry="2.05" fill="#e8952a" stroke="#3a2a2a" stroke-width="0.45"/>
<ellipse cx="493.20" cy="184.62" rx="2.15" ry="2.05" fill="#f3c350" stroke="#3a2a2a" stroke-width="0.45"/>
<ellipse cx="497.70" cy="184.62" rx="2.15" ry="2.05" fill="#1c4269" stroke="#3a2a2a" stroke-width="0.45"/>
<ellipse cx="501.80" cy="184.62" rx="2.15" ry="2.05" fill="#0a0a0a" stroke="#3a2a2a" stroke-width="0.45"/>
<ellipse cx="506.20" cy="184.62" rx="2.15" ry="2.05" fill="#e8952a" stroke="#3a2a2a" stroke-width="0.45"/>
<line x1="214.60" y1="190.24" x2="512.50" y2="190.24" stroke="#808080" stroke-width="0.95"/>
<ellipse cx="233.10" cy="190.24" rx="2.15" ry="2.05" fill="#f1bfcb" stroke="#9a4a5e" stroke-width="0.6"/>
<ellipse cx="237.40" cy="190.24" rx="2.15" ry="2.05" fill="#a5123c" stroke="#3a2a2a" stroke-width="0.45"/>
<ellipse cx="264.30" cy="190.24" rx="2.15" ry="2.05" fill="#0e5c48" stroke="#3a2a2a" stroke-width="0.45"/>
<ellipse cx="269.70" cy="190.24" rx="2.15" ry="2.05" fill="#e8952a" stroke="#3a2a2a" stroke-width="0.45"/>
<ellipse cx="273.70" cy="190.24" rx="2.15" ry="2.05" fill="#f1bfcb" stroke="#9a4a5e" stroke-width="0.6"/>
<ellipse cx="338.80" cy="190.24" rx="2.15" ry="2.05" fill="#8c8c8c" stroke="#3a2a2a" stroke-width="0.45"/>
<ellipse cx="343.10" cy="190.24" rx="2.15" ry="2.05" fill="#0a0a0a" stroke="#3a2a2a" stroke-width="0.45"/>
<ellipse cx="347.70" cy="190.24" rx="2.15" ry="2.05" fill="#d4207a" stroke="#3a2a2a" stroke-width="0.45"/>
<ellipse cx="481.20" cy="190.24" rx="2.15" ry="2.05" fill="#e8952a" stroke="#3a2a2a" stroke-width="0.45"/>
<ellipse cx="493.20" cy="190.24" rx="2.15" ry="2.05" fill="#f3c350" stroke="#3a2a2a" stroke-width="0.45"/>
<ellipse cx="497.70" cy="190.24" rx="2.15" ry="2.05" fill="#1c4269" stroke="#3a2a2a" stroke-width="0.45"/>
<ellipse cx="501.80" cy="190.24" rx="2.15" ry="2.05" fill="#0a0a0a" stroke="#3a2a2a" stroke-width="0.45"/>
<ellipse cx="506.20" cy="190.24" rx="2.15" ry="2.05" fill="#e8952a" stroke="#3a2a2a" stroke-width="0.45"/>
<line x1="214.60" y1="195.86" x2="512.50" y2="195.86" stroke="#808080" stroke-width="0.95"/>
<ellipse cx="233.10" cy="195.86" rx="2.15" ry="2.05" fill="#f1bfcb" stroke="#9a4a5e" stroke-width="0.6"/>
<ellipse cx="237.40" cy="195.86" rx="2.15" ry="2.05" fill="#a5123c" stroke="#3a2a2a" stroke-width="0.45"/>
<ellipse cx="264.30" cy="195.86" rx="2.15" ry="2.05" fill="#0e5c48" stroke="#3a2a2a" stroke-width="0.45"/>
<ellipse cx="269.70" cy="195.86" rx="2.15" ry="2.05" fill="#e8952a" stroke="#3a2a2a" stroke-width="0.45"/>
<ellipse cx="273.70" cy="195.86" rx="2.15" ry="2.05" fill="#f1bfcb" stroke="#9a4a5e" stroke-width="0.6"/>
<ellipse cx="338.80" cy="195.86" rx="2.15" ry="2.05" fill="#8c8c8c" stroke="#3a2a2a" stroke-width="0.45"/>
<ellipse cx="347.70" cy="195.86" rx="2.15" ry="2.05" fill="#d4207a" stroke="#3a2a2a" stroke-width="0.45"/>
<ellipse cx="481.20" cy="195.86" rx="2.15" ry="2.05" fill="#e8952a" stroke="#3a2a2a" stroke-width="0.45"/>
<ellipse cx="493.20" cy="195.86" rx="2.15" ry="2.05" fill="#f3c350" stroke="#3a2a2a" stroke-width="0.45"/>
<ellipse cx="497.70" cy="195.86" rx="2.15" ry="2.05" fill="#1c4269" stroke="#3a2a2a" stroke-width="0.45"/>
<ellipse cx="501.80" cy="195.86" rx="2.15" ry="2.05" fill="#0a0a0a" stroke="#3a2a2a" stroke-width="0.45"/>
<ellipse cx="506.20" cy="195.86" rx="2.15" ry="2.05" fill="#e8952a" stroke="#3a2a2a" stroke-width="0.45"/>
<line x1="214.60" y1="201.48" x2="512.50" y2="201.48" stroke="#808080" stroke-width="0.95"/>
<ellipse cx="233.10" cy="201.48" rx="2.15" ry="2.05" fill="#f1bfcb" stroke="#9a4a5e" stroke-width="0.6"/>
<ellipse cx="237.40" cy="201.48" rx="2.15" ry="2.05" fill="#a5123c" stroke="#3a2a2a" stroke-width="0.45"/>
<ellipse cx="264.30" cy="201.48" rx="2.15" ry="2.05" fill="#0e5c48" stroke="#3a2a2a" stroke-width="0.45"/>
<ellipse cx="269.70" cy="201.48" rx="2.15" ry="2.05" fill="#e8952a" stroke="#3a2a2a" stroke-width="0.45"/>
<ellipse cx="273.70" cy="201.48" rx="2.15" ry="2.05" fill="#f1bfcb" stroke="#9a4a5e" stroke-width="0.6"/>
<ellipse cx="338.80" cy="201.48" rx="2.15" ry="2.05" fill="#8c8c8c" stroke="#3a2a2a" stroke-width="0.45"/>
<ellipse cx="343.10" cy="201.48" rx="2.15" ry="2.05" fill="#0a0a0a" stroke="#3a2a2a" stroke-width="0.45"/>
<ellipse cx="347.70" cy="201.48" rx="2.15" ry="2.05" fill="#d4207a" stroke="#3a2a2a" stroke-width="0.45"/>
<ellipse cx="481.20" cy="201.48" rx="2.15" ry="2.05" fill="#e8952a" stroke="#3a2a2a" stroke-width="0.45"/>
<ellipse cx="493.20" cy="201.48" rx="2.15" ry="2.05" fill="#f3c350" stroke="#3a2a2a" stroke-width="0.45"/>
<ellipse cx="497.70" cy="201.48" rx="2.15" ry="2.05" fill="#1c4269" stroke="#3a2a2a" stroke-width="0.45"/>
<ellipse cx="501.80" cy="201.48" rx="2.15" ry="2.05" fill="#0a0a0a" stroke="#3a2a2a" stroke-width="0.45"/>
<ellipse cx="506.20" cy="201.48" rx="2.15" ry="2.05" fill="#e8952a" stroke="#3a2a2a" stroke-width="0.45"/>
<line x1="214.60" y1="207.10" x2="512.50" y2="207.10" stroke="#808080" stroke-width="0.95"/>
<ellipse cx="233.10" cy="207.10" rx="2.15" ry="2.05" fill="#f1bfcb" stroke="#9a4a5e" stroke-width="0.6"/>
<ellipse cx="237.40" cy="207.10" rx="2.15" ry="2.05" fill="#a5123c" stroke="#3a2a2a" stroke-width="0.45"/>
<ellipse cx="264.30" cy="207.10" rx="2.15" ry="2.05" fill="#0e5c48" stroke="#3a2a2a" stroke-width="0.45"/>
<ellipse cx="269.70" cy="207.10" rx="2.15" ry="2.05" fill="#e8952a" stroke="#3a2a2a" stroke-width="0.45"/>
<ellipse cx="273.70" cy="207.10" rx="2.15" ry="2.05" fill="#f1bfcb" stroke="#9a4a5e" stroke-width="0.6"/>
<ellipse cx="338.80" cy="207.10" rx="2.15" ry="2.05" fill="#8c8c8c" stroke="#3a2a2a" stroke-width="0.45"/>
<ellipse cx="343.10" cy="207.10" rx="2.15" ry="2.05" fill="#0a0a0a" stroke="#3a2a2a" stroke-width="0.45"/>
<ellipse cx="347.70" cy="207.10" rx="2.15" ry="2.05" fill="#d4207a" stroke="#3a2a2a" stroke-width="0.45"/>
<ellipse cx="481.20" cy="207.10" rx="2.15" ry="2.05" fill="#e8952a" stroke="#3a2a2a" stroke-width="0.45"/>
<ellipse cx="493.20" cy="207.10" rx="2.15" ry="2.05" fill="#f3c350" stroke="#3a2a2a" stroke-width="0.45"/>
<ellipse cx="497.70" cy="207.10" rx="2.15" ry="2.05" fill="#1c4269" stroke="#3a2a2a" stroke-width="0.45"/>
<ellipse cx="501.80" cy="207.10" rx="2.15" ry="2.05" fill="#0a0a0a" stroke="#3a2a2a" stroke-width="0.45"/>
<ellipse cx="506.20" cy="207.10" rx="2.15" ry="2.05" fill="#e8952a" stroke="#3a2a2a" stroke-width="0.45"/>
<line x1="214.60" y1="212.72" x2="512.50" y2="212.72" stroke="#808080" stroke-width="0.95"/>
<ellipse cx="233.10" cy="212.72" rx="2.15" ry="2.05" fill="#f1bfcb" stroke="#9a4a5e" stroke-width="0.6"/>
<ellipse cx="237.40" cy="212.72" rx="2.15" ry="2.05" fill="#a5123c" stroke="#3a2a2a" stroke-width="0.45"/>
<ellipse cx="264.30" cy="212.72" rx="2.15" ry="2.05" fill="#0e5c48" stroke="#3a2a2a" stroke-width="0.45"/>
<ellipse cx="269.70" cy="212.72" rx="2.15" ry="2.05" fill="#e8952a" stroke="#3a2a2a" stroke-width="0.45"/>
<ellipse cx="273.70" cy="212.72" rx="2.15" ry="2.05" fill="#f1bfcb" stroke="#9a4a5e" stroke-width="0.6"/>
<ellipse cx="338.80" cy="212.72" rx="2.15" ry="2.05" fill="#8c8c8c" stroke="#3a2a2a" stroke-width="0.45"/>
<ellipse cx="343.10" cy="212.72" rx="2.15" ry="2.05" fill="#0a0a0a" stroke="#3a2a2a" stroke-width="0.45"/>
<ellipse cx="347.70" cy="212.72" rx="2.15" ry="2.05" fill="#d4207a" stroke="#3a2a2a" stroke-width="0.45"/>
<ellipse cx="481.20" cy="212.72" rx="2.15" ry="2.05" fill="#e8952a" stroke="#3a2a2a" stroke-width="0.45"/>
<ellipse cx="493.20" cy="212.72" rx="2.15" ry="2.05" fill="#f3c350" stroke="#3a2a2a" stroke-width="0.45"/>
<ellipse cx="497.70" cy="212.72" rx="2.15" ry="2.05" fill="#1c4269" stroke="#3a2a2a" stroke-width="0.45"/>
<ellipse cx="501.80" cy="212.72" rx="2.15" ry="2.05" fill="#0a0a0a" stroke="#3a2a2a" stroke-width="0.45"/>
<ellipse cx="506.20" cy="212.72" rx="2.15" ry="2.05" fill="#e8952a" stroke="#3a2a2a" stroke-width="0.45"/>
<line x1="214.60" y1="218.34" x2="512.50" y2="218.34" stroke="#808080" stroke-width="0.95"/>
<ellipse cx="233.10" cy="218.34" rx="2.15" ry="2.05" fill="#f1bfcb" stroke="#9a4a5e" stroke-width="0.6"/>
<ellipse cx="237.40" cy="218.34" rx="2.15" ry="2.05" fill="#a5123c" stroke="#3a2a2a" stroke-width="0.45"/>
<ellipse cx="264.30" cy="218.34" rx="2.15" ry="2.05" fill="#0e5c48" stroke="#3a2a2a" stroke-width="0.45"/>
<ellipse cx="269.70" cy="218.34" rx="2.15" ry="2.05" fill="#e8952a" stroke="#3a2a2a" stroke-width="0.45"/>
<ellipse cx="273.70" cy="218.34" rx="2.15" ry="2.05" fill="#f1bfcb" stroke="#9a4a5e" stroke-width="0.6"/>
<ellipse cx="338.80" cy="218.34" rx="2.15" ry="2.05" fill="#8c8c8c" stroke="#3a2a2a" stroke-width="0.45"/>
<ellipse cx="343.10" cy="218.34" rx="2.15" ry="2.05" fill="#0a0a0a" stroke="#3a2a2a" stroke-width="0.45"/>
<ellipse cx="347.70" cy="218.34" rx="2.15" ry="2.05" fill="#d4207a" stroke="#3a2a2a" stroke-width="0.45"/>
<ellipse cx="481.20" cy="218.34" rx="2.15" ry="2.05" fill="#e8952a" stroke="#3a2a2a" stroke-width="0.45"/>
<ellipse cx="493.20" cy="218.34" rx="2.15" ry="2.05" fill="#f3c350" stroke="#3a2a2a" stroke-width="0.45"/>
<ellipse cx="497.70" cy="218.34" rx="2.15" ry="2.05" fill="#1c4269" stroke="#3a2a2a" stroke-width="0.45"/>
<ellipse cx="501.80" cy="218.34" rx="2.15" ry="2.05" fill="#0a0a0a" stroke="#3a2a2a" stroke-width="0.45"/>
<ellipse cx="506.20" cy="218.34" rx="2.15" ry="2.05" fill="#e8952a" stroke="#3a2a2a" stroke-width="0.45"/>
<line x1="214.60" y1="223.96" x2="512.50" y2="223.96" stroke="#808080" stroke-width="0.95"/>
<ellipse cx="233.10" cy="223.96" rx="2.15" ry="2.05" fill="#f1bfcb" stroke="#9a4a5e" stroke-width="0.6"/>
<ellipse cx="237.40" cy="223.96" rx="2.15" ry="2.05" fill="#a5123c" stroke="#3a2a2a" stroke-width="0.45"/>
<ellipse cx="264.30" cy="223.96" rx="2.15" ry="2.05" fill="#0e5c48" stroke="#3a2a2a" stroke-width="0.45"/>
<ellipse cx="269.70" cy="223.96" rx="2.15" ry="2.05" fill="#e8952a" stroke="#3a2a2a" stroke-width="0.45"/>
<ellipse cx="273.70" cy="223.96" rx="2.15" ry="2.05" fill="#f1bfcb" stroke="#9a4a5e" stroke-width="0.6"/>
<ellipse cx="338.80" cy="223.96" rx="2.15" ry="2.05" fill="#8c8c8c" stroke="#3a2a2a" stroke-width="0.45"/>
<ellipse cx="343.10" cy="223.96" rx="2.15" ry="2.05" fill="#0a0a0a" stroke="#3a2a2a" stroke-width="0.45"/>
<ellipse cx="347.70" cy="223.96" rx="2.15" ry="2.05" fill="#d4207a" stroke="#3a2a2a" stroke-width="0.45"/>
<ellipse cx="481.20" cy="223.96" rx="2.15" ry="2.05" fill="#e8952a" stroke="#3a2a2a" stroke-width="0.45"/>
<ellipse cx="493.20" cy="223.96" rx="2.15" ry="2.05" fill="#f3c350" stroke="#3a2a2a" stroke-width="0.45"/>
<ellipse cx="497.70" cy="223.96" rx="2.15" ry="2.05" fill="#1c4269" stroke="#3a2a2a" stroke-width="0.45"/>
<ellipse cx="501.80" cy="223.96" rx="2.15" ry="2.05" fill="#0a0a0a" stroke="#3a2a2a" stroke-width="0.45"/>
<ellipse cx="506.20" cy="223.96" rx="2.15" ry="2.05" fill="#e8952a" stroke="#3a2a2a" stroke-width="0.45"/>
<line x1="214.60" y1="229.58" x2="512.50" y2="229.58" stroke="#808080" stroke-width="0.95"/>
<ellipse cx="233.10" cy="229.58" rx="2.15" ry="2.05" fill="#f1bfcb" stroke="#9a4a5e" stroke-width="0.6"/>
<ellipse cx="237.40" cy="229.58" rx="2.15" ry="2.05" fill="#a5123c" stroke="#3a2a2a" stroke-width="0.45"/>
<ellipse cx="264.30" cy="229.58" rx="2.15" ry="2.05" fill="#0e5c48" stroke="#3a2a2a" stroke-width="0.45"/>
<ellipse cx="269.70" cy="229.58" rx="2.15" ry="2.05" fill="#e8952a" stroke="#3a2a2a" stroke-width="0.45"/>
<ellipse cx="273.70" cy="229.58" rx="2.15" ry="2.05" fill="#f1bfcb" stroke="#9a4a5e" stroke-width="0.6"/>
<ellipse cx="338.80" cy="229.58" rx="2.15" ry="2.05" fill="#8c8c8c" stroke="#3a2a2a" stroke-width="0.45"/>
<ellipse cx="343.10" cy="229.58" rx="2.15" ry="2.05" fill="#0a0a0a" stroke="#3a2a2a" stroke-width="0.45"/>
<ellipse cx="347.70" cy="229.58" rx="2.15" ry="2.05" fill="#d4207a" stroke="#3a2a2a" stroke-width="0.45"/>
<ellipse cx="481.20" cy="229.58" rx="2.15" ry="2.05" fill="#e8952a" stroke="#3a2a2a" stroke-width="0.45"/>
<ellipse cx="493.20" cy="229.58" rx="2.15" ry="2.05" fill="#f3c350" stroke="#3a2a2a" stroke-width="0.45"/>
<ellipse cx="497.70" cy="229.58" rx="2.15" ry="2.05" fill="#1c4269" stroke="#3a2a2a" stroke-width="0.45"/>
<ellipse cx="501.80" cy="229.58" rx="2.15" ry="2.05" fill="#0a0a0a" stroke="#3a2a2a" stroke-width="0.45"/>
<ellipse cx="506.20" cy="229.58" rx="2.15" ry="2.05" fill="#e8952a" stroke="#3a2a2a" stroke-width="0.45"/>
<line x1="214.60" y1="235.20" x2="512.50" y2="235.20" stroke="#808080" stroke-width="0.95"/>
<ellipse cx="233.10" cy="235.20" rx="2.15" ry="2.05" fill="#f1bfcb" stroke="#9a4a5e" stroke-width="0.6"/>
<ellipse cx="237.40" cy="235.20" rx="2.15" ry="2.05" fill="#a5123c" stroke="#3a2a2a" stroke-width="0.45"/>
<ellipse cx="264.30" cy="235.20" rx="2.15" ry="2.05" fill="#0e5c48" stroke="#3a2a2a" stroke-width="0.45"/>
<ellipse cx="269.70" cy="235.20" rx="2.15" ry="2.05" fill="#e8952a" stroke="#3a2a2a" stroke-width="0.45"/>
<ellipse cx="273.70" cy="235.20" rx="2.15" ry="2.05" fill="#f1bfcb" stroke="#9a4a5e" stroke-width="0.6"/>
<ellipse cx="338.80" cy="235.20" rx="2.15" ry="2.05" fill="#8c8c8c" stroke="#3a2a2a" stroke-width="0.45"/>
<ellipse cx="343.10" cy="235.20" rx="2.15" ry="2.05" fill="#0a0a0a" stroke="#3a2a2a" stroke-width="0.45"/>
<ellipse cx="347.70" cy="235.20" rx="2.15" ry="2.05" fill="#d4207a" stroke="#3a2a2a" stroke-width="0.45"/>
<ellipse cx="481.20" cy="235.20" rx="2.15" ry="2.05" fill="#e8952a" stroke="#3a2a2a" stroke-width="0.45"/>
<ellipse cx="493.20" cy="235.20" rx="2.15" ry="2.05" fill="#f3c350" stroke="#3a2a2a" stroke-width="0.45"/>
<ellipse cx="497.70" cy="235.20" rx="2.15" ry="2.05" fill="#1c4269" stroke="#3a2a2a" stroke-width="0.45"/>
<ellipse cx="501.80" cy="235.20" rx="2.15" ry="2.05" fill="#0a0a0a" stroke="#3a2a2a" stroke-width="0.45"/>
<ellipse cx="506.20" cy="235.20" rx="2.15" ry="2.05" fill="#e8952a" stroke="#3a2a2a" stroke-width="0.45"/>
<line x1="214.60" y1="240.82" x2="512.50" y2="240.82" stroke="#808080" stroke-width="0.95"/>
<ellipse cx="233.10" cy="240.82" rx="2.15" ry="2.05" fill="#f1bfcb" stroke="#9a4a5e" stroke-width="0.6"/>
<ellipse cx="237.40" cy="240.82" rx="2.15" ry="2.05" fill="#a5123c" stroke="#3a2a2a" stroke-width="0.45"/>
<ellipse cx="264.30" cy="240.82" rx="2.15" ry="2.05" fill="#0e5c48" stroke="#3a2a2a" stroke-width="0.45"/>
<ellipse cx="269.70" cy="240.82" rx="2.15" ry="2.05" fill="#e8952a" stroke="#3a2a2a" stroke-width="0.45"/>
<ellipse cx="273.70" cy="240.82" rx="2.15" ry="2.05" fill="#f1bfcb" stroke="#9a4a5e" stroke-width="0.6"/>
<ellipse cx="338.80" cy="240.82" rx="2.15" ry="2.05" fill="#8c8c8c" stroke="#3a2a2a" stroke-width="0.45"/>
<ellipse cx="343.10" cy="240.82" rx="2.15" ry="2.05" fill="#0a0a0a" stroke="#3a2a2a" stroke-width="0.45"/>
<ellipse cx="347.70" cy="240.82" rx="2.15" ry="2.05" fill="#d4207a" stroke="#3a2a2a" stroke-width="0.45"/>
<ellipse cx="481.20" cy="240.82" rx="2.15" ry="2.05" fill="#e8952a" stroke="#3a2a2a" stroke-width="0.45"/>
<ellipse cx="493.20" cy="240.82" rx="2.15" ry="2.05" fill="#f3c350" stroke="#3a2a2a" stroke-width="0.45"/>
<ellipse cx="497.70" cy="240.82" rx="2.15" ry="2.05" fill="#1c4269" stroke="#3a2a2a" stroke-width="0.45"/>
<ellipse cx="501.80" cy="240.82" rx="2.15" ry="2.05" fill="#0a0a0a" stroke="#3a2a2a" stroke-width="0.45"/>
<ellipse cx="506.20" cy="240.82" rx="2.15" ry="2.05" fill="#e8952a" stroke="#3a2a2a" stroke-width="0.45"/>
<line x1="214.60" y1="246.44" x2="512.50" y2="246.44" stroke="#808080" stroke-width="0.95"/>
<ellipse cx="233.10" cy="246.44" rx="2.15" ry="2.05" fill="#f1bfcb" stroke="#9a4a5e" stroke-width="0.6"/>
<ellipse cx="237.40" cy="246.44" rx="2.15" ry="2.05" fill="#a5123c" stroke="#3a2a2a" stroke-width="0.45"/>
<ellipse cx="264.30" cy="246.44" rx="2.15" ry="2.05" fill="#0e5c48" stroke="#3a2a2a" stroke-width="0.45"/>
<ellipse cx="269.70" cy="246.44" rx="2.15" ry="2.05" fill="#e8952a" stroke="#3a2a2a" stroke-width="0.45"/>
<ellipse cx="273.70" cy="246.44" rx="2.15" ry="2.05" fill="#f1bfcb" stroke="#9a4a5e" stroke-width="0.6"/>
<ellipse cx="338.80" cy="246.44" rx="2.15" ry="2.05" fill="#8c8c8c" stroke="#3a2a2a" stroke-width="0.45"/>
<ellipse cx="343.10" cy="246.44" rx="2.15" ry="2.05" fill="#0a0a0a" stroke="#3a2a2a" stroke-width="0.45"/>
<ellipse cx="347.70" cy="246.44" rx="2.15" ry="2.05" fill="#d4207a" stroke="#3a2a2a" stroke-width="0.45"/>
<ellipse cx="481.20" cy="246.44" rx="2.15" ry="2.05" fill="#e8952a" stroke="#3a2a2a" stroke-width="0.45"/>
<ellipse cx="493.20" cy="246.44" rx="2.15" ry="2.05" fill="#f3c350" stroke="#3a2a2a" stroke-width="0.45"/>
<ellipse cx="497.70" cy="246.44" rx="2.15" ry="2.05" fill="#1c4269" stroke="#3a2a2a" stroke-width="0.45"/>
<ellipse cx="501.80" cy="246.44" rx="2.15" ry="2.05" fill="#0a0a0a" stroke="#3a2a2a" stroke-width="0.45"/>
<ellipse cx="506.20" cy="246.44" rx="2.15" ry="2.05" fill="#e8952a" stroke="#3a2a2a" stroke-width="0.45"/>
<line x1="214.60" y1="252.06" x2="512.50" y2="252.06" stroke="#808080" stroke-width="0.95"/>
<ellipse cx="233.10" cy="252.06" rx="2.15" ry="2.05" fill="#f1bfcb" stroke="#9a4a5e" stroke-width="0.6"/>
<ellipse cx="237.40" cy="252.06" rx="2.15" ry="2.05" fill="#a5123c" stroke="#3a2a2a" stroke-width="0.45"/>
<ellipse cx="264.30" cy="252.06" rx="2.15" ry="2.05" fill="#0e5c48" stroke="#3a2a2a" stroke-width="0.45"/>
<ellipse cx="269.70" cy="252.06" rx="2.15" ry="2.05" fill="#e8952a" stroke="#3a2a2a" stroke-width="0.45"/>
<ellipse cx="273.70" cy="252.06" rx="2.15" ry="2.05" fill="#f1bfcb" stroke="#9a4a5e" stroke-width="0.6"/>
<ellipse cx="338.80" cy="252.06" rx="2.15" ry="2.05" fill="#8c8c8c" stroke="#3a2a2a" stroke-width="0.45"/>
<ellipse cx="343.10" cy="252.06" rx="2.15" ry="2.05" fill="#0a0a0a" stroke="#3a2a2a" stroke-width="0.45"/>
<ellipse cx="347.70" cy="252.06" rx="2.15" ry="2.05" fill="#d4207a" stroke="#3a2a2a" stroke-width="0.45"/>
<ellipse cx="481.20" cy="252.06" rx="2.15" ry="2.05" fill="#e8952a" stroke="#3a2a2a" stroke-width="0.45"/>
<ellipse cx="493.20" cy="252.06" rx="2.15" ry="2.05" fill="#f3c350" stroke="#3a2a2a" stroke-width="0.45"/>
<ellipse cx="497.70" cy="252.06" rx="2.15" ry="2.05" fill="#1c4269" stroke="#3a2a2a" stroke-width="0.45"/>
<ellipse cx="501.80" cy="252.06" rx="2.15" ry="2.05" fill="#0a0a0a" stroke="#3a2a2a" stroke-width="0.45"/>
<ellipse cx="506.20" cy="252.06" rx="2.15" ry="2.05" fill="#e8952a" stroke="#3a2a2a" stroke-width="0.45"/>
<line x1="214.60" y1="257.68" x2="512.50" y2="257.68" stroke="#808080" stroke-width="0.95"/>
<ellipse cx="233.10" cy="257.68" rx="2.15" ry="2.05" fill="#f1bfcb" stroke="#9a4a5e" stroke-width="0.6"/>
<ellipse cx="237.40" cy="257.68" rx="2.15" ry="2.05" fill="#a5123c" stroke="#3a2a2a" stroke-width="0.45"/>
<ellipse cx="264.30" cy="257.68" rx="2.15" ry="2.05" fill="#0e5c48" stroke="#3a2a2a" stroke-width="0.45"/>
<ellipse cx="269.70" cy="257.68" rx="2.15" ry="2.05" fill="#e8952a" stroke="#3a2a2a" stroke-width="0.45"/>
<ellipse cx="273.70" cy="257.68" rx="2.15" ry="2.05" fill="#f1bfcb" stroke="#9a4a5e" stroke-width="0.6"/>
<ellipse cx="338.80" cy="257.68" rx="2.15" ry="2.05" fill="#8c8c8c" stroke="#3a2a2a" stroke-width="0.45"/>
<ellipse cx="343.10" cy="257.68" rx="2.15" ry="2.05" fill="#0a0a0a" stroke="#3a2a2a" stroke-width="0.45"/>
<ellipse cx="347.70" cy="257.68" rx="2.15" ry="2.05" fill="#d4207a" stroke="#3a2a2a" stroke-width="0.45"/>
<ellipse cx="481.20" cy="257.68" rx="2.15" ry="2.05" fill="#e8952a" stroke="#3a2a2a" stroke-width="0.45"/>
<ellipse cx="493.20" cy="257.68" rx="2.15" ry="2.05" fill="#f3c350" stroke="#3a2a2a" stroke-width="0.45"/>
<ellipse cx="497.70" cy="257.68" rx="2.15" ry="2.05" fill="#1c4269" stroke="#3a2a2a" stroke-width="0.45"/>
<ellipse cx="501.80" cy="257.68" rx="2.15" ry="2.05" fill="#0a0a0a" stroke="#3a2a2a" stroke-width="0.45"/>
<ellipse cx="506.20" cy="257.68" rx="2.15" ry="2.05" fill="#e8952a" stroke="#3a2a2a" stroke-width="0.45"/>
<line x1="214.60" y1="263.30" x2="512.50" y2="263.30" stroke="#808080" stroke-width="0.95"/>
<ellipse cx="233.10" cy="263.30" rx="2.15" ry="2.05" fill="#f1bfcb" stroke="#9a4a5e" stroke-width="0.6"/>
<ellipse cx="237.40" cy="263.30" rx="2.15" ry="2.05" fill="#a5123c" stroke="#3a2a2a" stroke-width="0.45"/>
<ellipse cx="264.30" cy="263.30" rx="2.15" ry="2.05" fill="#0e5c48" stroke="#3a2a2a" stroke-width="0.45"/>
<ellipse cx="269.70" cy="263.30" rx="2.15" ry="2.05" fill="#e8952a" stroke="#3a2a2a" stroke-width="0.45"/>
<ellipse cx="273.70" cy="263.30" rx="2.15" ry="2.05" fill="#f1bfcb" stroke="#9a4a5e" stroke-width="0.6"/>
<ellipse cx="338.80" cy="263.30" rx="2.15" ry="2.05" fill="#8c8c8c" stroke="#3a2a2a" stroke-width="0.45"/>
<ellipse cx="343.10" cy="263.30" rx="2.15" ry="2.05" fill="#0a0a0a" stroke="#3a2a2a" stroke-width="0.45"/>
<ellipse cx="347.70" cy="263.30" rx="2.15" ry="2.05" fill="#d4207a" stroke="#3a2a2a" stroke-width="0.45"/>
<ellipse cx="481.20" cy="263.30" rx="2.15" ry="2.05" fill="#e8952a" stroke="#3a2a2a" stroke-width="0.45"/>
<text x="225.30" y="112.30" font-size="6.3" fill="#2a2a2a" textLength="7.00" lengthAdjust="spacingAndGlyphs">0.99</text>
<text x="237.60" y="112.30" font-size="6.3" fill="#2a2a2a" textLength="9.50" lengthAdjust="spacingAndGlyphs">1.00</text>
<text x="256.30" y="112.30" font-size="6.3" fill="#2a2a2a" textLength="9.60" lengthAdjust="spacingAndGlyphs">0.86</text>
<text x="269.00" y="112.30" font-size="6.3" fill="#2a2a2a" textLength="8.20" lengthAdjust="spacingAndGlyphs">0.84</text>
<text x="328.20" y="112.30" font-size="6.3" fill="#2a2a2a" textLength="9.00" lengthAdjust="spacingAndGlyphs">0.63</text>
<text x="338.80" y="112.30" font-size="6.3" fill="#2a2a2a" textLength="9.80" lengthAdjust="spacingAndGlyphs">1.00</text>
<text x="349.30" y="112.30" font-size="6.3" fill="#2a2a2a" textLength="11.50" lengthAdjust="spacingAndGlyphs">0.89</text>
<text x="469.50" y="112.30" font-size="6.3" fill="#2a2a2a" textLength="9.00" lengthAdjust="spacingAndGlyphs">0.54</text>
<text x="480.50" y="112.30" font-size="6.3" fill="#2a2a2a" textLength="11.00" lengthAdjust="spacingAndGlyphs">0.62</text>
<text x="492.50" y="112.30" font-size="6.3" fill="#2a2a2a" textLength="11.00" lengthAdjust="spacingAndGlyphs">0.68</text>
<text x="504.50" y="112.30" font-size="6.3" fill="#2a2a2a" textLength="10.00" lengthAdjust="spacingAndGlyphs">0.69</text>
<path d="M231.5,112.9 Q231.5,117.6 233.3,120.3" fill="none" stroke="#444" stroke-width="0.55"/>
<path d="M239.6,112.9 Q239.6,117.6 237.4,120.3" fill="none" stroke="#444" stroke-width="0.55"/>
<path d="M263.3,113.2 Q263.3,117.75 264.8,120.3" fill="none" stroke="#444" stroke-width="0.55"/>
<path d="M271.3,113.2 Q271.3,117.75 270.5,120.3" fill="none" stroke="#444" stroke-width="0.55"/>
<path d="M337.3,112.8 Q337.3,117.65 339.5,120.5" fill="none" stroke="#444" stroke-width="0.55"/>
<path d="M343.1,112.8 Q343.1,117.65 343.1,120.5" fill="none" stroke="#444" stroke-width="0.55"/>
<path d="M348.6,113.2 Q348.6,117.85 347.5,120.5" fill="none" stroke="#444" stroke-width="0.55"/>
<path d="M491.5,112.8 Q491.5,117.55 493.4,120.3" fill="none" stroke="#444" stroke-width="0.55"/>
<path d="M497.6,112.8 Q497.6,117.55 497.7,120.3" fill="none" stroke="#444" stroke-width="0.55"/>
<path d="M506.0,113.0 Q506.0,117.65 503.4,120.3" fill="none" stroke="#444" stroke-width="0.55"/>
<circle cx="210" cy="276.9" r="2.1" fill="#f1bfcb" stroke="#3a2a2a" stroke-width="0.4"/>
<text x="214.60" y="279.60" font-size="7.8" fill="#231f20" stroke="#231f20" stroke-width="0.08" textLength="39.60" lengthAdjust="spacingAndGlyphs">CREB factor</text>
<circle cx="280.5" cy="276.9" r="2.1" fill="#a5123c" stroke="#3a2a2a" stroke-width="0.4"/>
<text x="285.40" y="279.60" font-size="7.8" fill="#231f20" stroke="#231f20" stroke-width="0.08" textLength="40.00" lengthAdjust="spacingAndGlyphs">GATA factor</text>
<circle cx="335.8" cy="276.9" r="2.1" fill="#0e5c48" stroke="#3a2a2a" stroke-width="0.4"/>
<text x="340.50" y="279.60" font-size="7.8" fill="#231f20" stroke="#231f20" stroke-width="0.08" textLength="27.20" lengthAdjust="spacingAndGlyphs">LEF/TCF</text>
<circle cx="410" cy="276.9" r="2.1" fill="#e8952a" stroke="#3a2a2a" stroke-width="0.4"/>
<text x="415.40" y="279.60" font-size="7.8" fill="#231f20" stroke="#231f20" stroke-width="0.08" textLength="70.40" lengthAdjust="spacingAndGlyphs">Homeodomain factor</text>
<circle cx="209.5" cy="286.2" r="2.1" fill="#8c8c8c" stroke="#3a2a2a" stroke-width="0.4"/>
<text x="213.50" y="288.90" font-size="7.8" fill="#231f20" stroke="#231f20" stroke-width="0.08" textLength="61.10" lengthAdjust="spacingAndGlyphs">Krüppel-like factor</text>
<circle cx="280.8" cy="286.2" r="2.1" fill="#0a0a0a" stroke="#3a2a2a" stroke-width="0.4"/>
<text x="285.70" y="288.90" font-size="7.8" fill="#231f20" stroke="#231f20" stroke-width="0.08" textLength="40.50" lengthAdjust="spacingAndGlyphs">Ikaros factor</text>
<circle cx="335.8" cy="286.2" r="2.1" fill="#d4207a" stroke="#3a2a2a" stroke-width="0.4"/>
<text x="340.50" y="288.90" font-size="7.8" fill="#231f20" stroke="#231f20" stroke-width="0.08" textLength="63.00" lengthAdjust="spacingAndGlyphs">Runt-related factor</text>
<circle cx="410" cy="286.2" r="2.1" fill="#f3c350" stroke="#3a2a2a" stroke-width="0.4"/>
<text x="415.10" y="288.90" font-size="7.8" fill="#231f20" stroke="#231f20" stroke-width="0.08" textLength="53.40" lengthAdjust="spacingAndGlyphs">HMG-box factor</text>
<circle cx="473.5" cy="286.2" r="2.1" fill="#1c4269" stroke="#3a2a2a" stroke-width="0.4"/>
<text x="478.20" y="288.90" font-size="7.8" fill="#231f20" stroke="#231f20" stroke-width="0.08" textLength="33.30" lengthAdjust="spacingAndGlyphs">ETS factor</text>
<text x="137.20" y="102.85" font-size="6.3" fill="#231f20" textLength="26.93" lengthAdjust="spacingAndGlyphs">H. sapiens</text>
<text x="137.20" y="108.85" font-size="6.3" fill="#231f20" textLength="36.12" lengthAdjust="spacingAndGlyphs">N. leucogenys</text>
<text x="137.20" y="114.85" font-size="6.3" fill="#231f20" textLength="26.61" lengthAdjust="spacingAndGlyphs">M. mulatta</text>
<text x="137.20" y="120.85" font-size="6.3" fill="#231f20" textLength="26.61" lengthAdjust="spacingAndGlyphs">C. jacchus</text>
<text x="137.20" y="126.85" font-size="6.3" fill="#231f20" textLength="28.19" lengthAdjust="spacingAndGlyphs">M. murinus</text>
<text x="137.20" y="132.85" font-size="6.3" fill="#231f20" textLength="31.99" lengthAdjust="spacingAndGlyphs">M. musculus</text>
<text x="137.20" y="138.85" font-size="6.3" fill="#231f20" textLength="34.85" lengthAdjust="spacingAndGlyphs">R. novergicus</text>
<text x="137.20" y="144.85" font-size="6.3" fill="#231f20" textLength="30.09" lengthAdjust="spacingAndGlyphs">C. porcellus</text>
<text x="137.20" y="150.85" font-size="6.3" fill="#231f20" textLength="31.36" lengthAdjust="spacingAndGlyphs">O. cuniculus</text>
<text x="137.20" y="156.85" font-size="6.3" fill="#231f20" textLength="33.91" lengthAdjust="spacingAndGlyphs">E. europaeus</text>
<text x="137.20" y="162.85" font-size="6.3" fill="#231f20" textLength="22.49" lengthAdjust="spacingAndGlyphs">S. scrofa</text>
<text x="137.20" y="168.85" font-size="6.3" fill="#231f20" textLength="22.81" lengthAdjust="spacingAndGlyphs">B. taurus</text>
<text x="137.20" y="174.85" font-size="6.3" fill="#231f20" textLength="19.95" lengthAdjust="spacingAndGlyphs">O. aries</text>
<text x="137.20" y="180.85" font-size="6.3" fill="#231f20" textLength="27.88" lengthAdjust="spacingAndGlyphs">E. caballus</text>
<text x="137.20" y="186.85" font-size="6.3" fill="#231f20" textLength="44.98" lengthAdjust="spacingAndGlyphs">C. lupus familiaris</text>
<text x="137.20" y="192.85" font-size="6.3" fill="#231f20" textLength="19.64" lengthAdjust="spacingAndGlyphs">F. catus</text>
<text x="137.20" y="198.85" font-size="6.3" fill="#231f20" textLength="30.41" lengthAdjust="spacingAndGlyphs">M. lucifugus</text>
<text x="137.20" y="204.85" font-size="6.3" fill="#231f20" textLength="26.61" lengthAdjust="spacingAndGlyphs">L. africana</text>
<text x="137.20" y="210.85" font-size="6.3" fill="#231f20" textLength="42.13" lengthAdjust="spacingAndGlyphs">D. novemcinctus</text>
<text x="137.20" y="216.85" font-size="6.3" fill="#231f20" textLength="29.15" lengthAdjust="spacingAndGlyphs">O. anatinus</text>
<text x="137.20" y="222.85" font-size="6.3" fill="#231f20" textLength="22.49" lengthAdjust="spacingAndGlyphs">G. gallus</text>
<text x="137.20" y="228.85" font-size="6.3" fill="#231f20" textLength="32.32" lengthAdjust="spacingAndGlyphs">M. gallopavo</text>
<text x="137.20" y="234.85" font-size="6.3" fill="#231f20" textLength="64.95" lengthAdjust="spacingAndGlyphs">A. chrysaetos canadensis</text>
<text x="137.20" y="240.85" font-size="6.3" fill="#231f20" textLength="28.19" lengthAdjust="spacingAndGlyphs">A. australis</text>
<text x="137.20" y="246.85" font-size="6.3" fill="#231f20" textLength="32.31" lengthAdjust="spacingAndGlyphs">C. picta bellii</text>
<text x="137.20" y="252.85" font-size="6.3" fill="#231f20" textLength="37.07" lengthAdjust="spacingAndGlyphs">A. carolinensis</text>
<ellipse cx="128.80" cy="100.60" rx="0.80" ry="3.50" fill="#111"/>
<ellipse cx="128.60" cy="106.60" rx="2.80" ry="1.73" fill="#111"/>
<path d="M126.40,105.60 L124.60,105.00 M126.40,107.60 L124.60,108.20" stroke="#111" stroke-width="0.8"/>
<ellipse cx="129.00" cy="112.60" rx="3.25" ry="1.84" fill="#111"/>
<path d="M126.35,111.60 L124.55,111.00 M126.35,113.60 L124.55,114.20" stroke="#111" stroke-width="0.8"/>
<ellipse cx="128.60" cy="118.60" rx="2.52" ry="1.94" fill="#111"/>
<path d="M126.68,117.60 L124.88,117.00 M126.68,119.60 L124.88,120.20" stroke="#111" stroke-width="0.8"/>
<ellipse cx="129.40" cy="124.60" rx="2.91" ry="1.62" fill="#111"/>
<path d="M127.09,123.60 L125.29,123.00 M127.09,125.60 L125.29,126.20" stroke="#111" stroke-width="0.8"/>
<ellipse cx="128.60" cy="130.60" rx="3.64" ry="1.51" fill="#111"/>
<path d="M125.56,129.60 L123.76,129.00 M125.56,131.60 L123.76,132.20" stroke="#111" stroke-width="0.8"/>
<ellipse cx="128.80" cy="136.60" rx="3.81" ry="1.51" fill="#111"/>
<path d="M125.59,135.60 L123.79,135.00 M125.59,137.60 L123.79,138.20" stroke="#111" stroke-width="0.8"/>
<ellipse cx="129.40" cy="142.60" rx="3.81" ry="2.27" fill="#111"/>
<ellipse cx="129.00" cy="148.60" rx="3.36" ry="2.05" fill="#111"/>
<path d="M126.24,147.60 L124.44,147.00 M126.24,149.60 L124.44,150.20" stroke="#111" stroke-width="0.8"/>
<ellipse cx="129.60" cy="154.60" rx="3.70" ry="2.16" fill="#111"/>
<ellipse cx="129.40" cy="160.60" rx="3.81" ry="2.16" fill="#111"/>
<path d="M126.19,159.60 L124.39,159.00 M126.19,161.60 L124.39,162.20" stroke="#111" stroke-width="0.8"/>
<ellipse cx="129.00" cy="166.60" rx="4.14" ry="2.16" fill="#111"/>
<path d="M125.46,165.60 L123.66,165.00 M125.46,167.60 L123.66,168.20" stroke="#111" stroke-width="0.8"/>
<path d="M132.64,166.60 L134.44,166.00" stroke="#111" stroke-width="0.8"/>
<ellipse cx="129.00" cy="172.60" rx="3.92" ry="2.16" fill="#111"/>
<path d="M125.68,171.60 L123.88,171.00 M125.68,173.60 L123.88,174.20" stroke="#111" stroke-width="0.8"/>
<path d="M132.42,172.60 L134.22,172.00" stroke="#111" stroke-width="0.8"/>
<ellipse cx="129.00" cy="178.60" rx="3.70" ry="1.94" fill="#111"/>
<path d="M125.90,177.60 L124.10,177.00 M125.90,179.60 L124.10,180.20" stroke="#111" stroke-width="0.8"/>
<path d="M132.20,178.60 L134.00,178.00" stroke="#111" stroke-width="0.8"/>
<ellipse cx="129.20" cy="184.60" rx="3.58" ry="1.94" fill="#111"/>
<path d="M126.22,183.60 L124.42,183.00 M126.22,185.60 L124.42,186.20" stroke="#111" stroke-width="0.8"/>
<path d="M132.28,184.60 L134.08,184.00" stroke="#111" stroke-width="0.8"/>
<ellipse cx="129.40" cy="190.60" rx="3.14" ry="1.84" fill="#111"/>
<path d="M126.86,189.60 L125.06,189.00 M126.86,191.60 L125.06,192.20" stroke="#111" stroke-width="0.8"/>
<ellipse cx="129.40" cy="196.60" rx="3.58" ry="1.73" fill="#111"/>
<ellipse cx="129.60" cy="202.60" rx="3.81" ry="2.48" fill="#111"/>
<path d="M126.39,201.60 L124.59,201.00 M126.39,203.60 L124.59,204.20" stroke="#111" stroke-width="0.8"/>
<ellipse cx="129.60" cy="208.60" rx="3.92" ry="2.05" fill="#111"/>
<ellipse cx="129.00" cy="214.60" rx="3.36" ry="1.62" fill="#111"/>
<path d="M126.24,213.60 L124.44,213.00 M126.24,215.60 L124.44,216.20" stroke="#111" stroke-width="0.8"/>
<ellipse cx="129.20" cy="220.60" rx="2.46" ry="2.27" fill="#111"/>
<path d="M127.34,219.60 L125.54,219.00 M127.34,221.60 L125.54,222.20" stroke="#111" stroke-width="0.8"/>
<ellipse cx="129.40" cy="226.60" rx="3.02" ry="2.38" fill="#111"/>
<path d="M126.98,225.60 L125.18,225.00 M126.98,227.60 L125.18,228.20" stroke="#111" stroke-width="0.8"/>
<ellipse cx="128.60" cy="232.60" rx="3.36" ry="2.48" fill="#111"/>
<path d="M125.84,231.60 L124.04,231.00 M125.84,233.60 L124.04,234.20" stroke="#111" stroke-width="0.8"/>
<ellipse cx="128.80" cy="238.60" rx="2.69" ry="1.84" fill="#111"/>
<path d="M126.71,237.60 L124.91,237.00 M126.71,239.60 L124.91,240.20" stroke="#111" stroke-width="0.8"/>
<ellipse cx="129.40" cy="244.60" rx="3.58" ry="1.94" fill="#111"/>
<path d="M126.42,243.60 L124.62,243.00 M126.42,245.60 L124.62,246.20" stroke="#111" stroke-width="0.8"/>
<ellipse cx="128.40" cy="250.60" rx="1.10" ry="3.20" fill="#111"/>
<polyline points="63.2,159.6 63.0,163 62.6,166.5 69.2,209.2 70.8,247.7 69.2,263.5" fill="none" stroke="#231f20" stroke-width="0.75"/>
<line x1="63.20" y1="159.60" x2="67.80" y2="158.40" stroke="#231f20" stroke-width="0.75"/>
<line x1="41.40" y1="162.90" x2="63.20" y2="161.20" stroke="#1a1a1a" stroke-width="0.8"/>
<text x="0" y="0" font-size="4.9" fill="#3a3a3a" dominant-baseline="middle" textLength="26.70" lengthAdjust="spacingAndGlyphs" transform="translate(14.70,162.90) rotate(0.00)">C. porcellus</text>
<ellipse cx="9.70" cy="162.40" rx="3.40" ry="1.80" fill="#111"/>
<line x1="40.40" y1="169.40" x2="62.80" y2="163.80" stroke="#1a1a1a" stroke-width="0.8"/>
<text x="0" y="0" font-size="4.9" fill="#3a3a3a" dominant-baseline="middle" textLength="24.51" lengthAdjust="spacingAndGlyphs" transform="translate(16.80,176.00) rotate(-15.62)">E. europaeus</text>
<ellipse cx="12.30" cy="177.20" rx="2.75" ry="1.90" fill="#111"/>
<line x1="40.40" y1="181.60" x2="62.60" y2="165.80" stroke="#1a1a1a" stroke-width="0.8"/>
<text x="0" y="0" font-size="4.9" fill="#3a3a3a" dominant-baseline="middle" textLength="26.97" lengthAdjust="spacingAndGlyphs" transform="translate(16.20,193.50) rotate(-26.18)">R. norvegicus</text>
<ellipse cx="11.50" cy="194.62" rx="3.19" ry="1.34" fill="#111"/><circle cx="14.95" cy="193.85" r="1.04" fill="#111"/><path d="M9.47,195.00 L9.25,196.92 M13.60,195.00 L13.75,196.92" stroke="#111" stroke-width="0.8"/>
<line x1="39.70" y1="187.70" x2="62.60" y2="166.50" stroke="#1a1a1a" stroke-width="0.8"/>
<text x="0" y="0" font-size="4.9" fill="#3a3a3a" dominant-baseline="middle" textLength="18.62" lengthAdjust="spacingAndGlyphs" transform="translate(24.90,199.00) rotate(-37.36)">M. musculus</text>
<ellipse cx="19.65" cy="201.44" rx="2.92" ry="1.26" fill="#111"/><circle cx="22.81" cy="200.72" r="0.97" fill="#111"/><path d="M17.79,201.80 L17.59,203.60 M21.57,201.80 L21.71,203.60" stroke="#111" stroke-width="0.8"/>
<line x1="43.50" y1="154.00" x2="63.20" y2="159.60" stroke="#1a1a1a" stroke-width="0.8"/>
<text x="0" y="0" font-size="4.9" fill="#3a3a3a" dominant-baseline="middle" textLength="18.00" lengthAdjust="spacingAndGlyphs" transform="translate(26.10,149.40) rotate(14.81)">M. murinus</text>
<ellipse cx="20.95" cy="146.76" rx="1.86" ry="1.89" fill="#111"/><circle cx="22.96" cy="145.68" r="1.46" fill="#111"/><path d="M19.77,147.30 L19.64,150.00 M22.18,147.30 L22.26,150.00" stroke="#111" stroke-width="0.8"/>
<line x1="47.00" y1="149.50" x2="63.20" y2="159.60" stroke="#1a1a1a" stroke-width="0.8"/>
<text x="0" y="0" font-size="4.9" fill="#3a3a3a" dominant-baseline="middle" textLength="21.56" lengthAdjust="spacingAndGlyphs" transform="translate(27.70,139.90) rotate(26.45)">O. cuniculus</text>
<ellipse cx="22.50" cy="137.82" rx="2.12" ry="1.68" fill="#111"/><circle cx="24.80" cy="136.86" r="1.30" fill="#111"/><path d="M21.15,138.30 L21.00,140.70 M23.90,138.30 L24.00,140.70" stroke="#111" stroke-width="0.8"/>
<line x1="50.50" y1="145.60" x2="63.20" y2="159.60" stroke="#1a1a1a" stroke-width="0.8"/>
<text x="0" y="0" font-size="4.9" fill="#3a3a3a" dominant-baseline="middle" textLength="18.64" lengthAdjust="spacingAndGlyphs" transform="translate(35.60,134.40) rotate(36.93)">C. jacchus</text>
<ellipse cx="32.10" cy="129.86" rx="2.12" ry="1.89" fill="#111"/><circle cx="34.40" cy="128.78" r="1.46" fill="#111"/><path d="M30.75,130.40 L30.60,133.10 M33.50,130.40 L33.60,133.10" stroke="#111" stroke-width="0.8"/>
<line x1="52.90" y1="141.20" x2="63.20" y2="159.60" stroke="#1a1a1a" stroke-width="0.8"/>
<text x="0" y="0" font-size="4.9" fill="#3a3a3a" dominant-baseline="middle" textLength="17.84" lengthAdjust="spacingAndGlyphs" transform="translate(41.60,127.40) rotate(50.69)">M. mulatta</text>
<ellipse cx="39.30" cy="123.50" rx="1.90" ry="2.25" fill="#111" transform="rotate(-20 39.30 123.50)"/>
<line x1="57.80" y1="140.00" x2="63.20" y2="159.60" stroke="#1a1a1a" stroke-width="0.8"/>
<text x="0" y="0" font-size="4.9" fill="#3a3a3a" dominant-baseline="middle" textLength="18.36" lengthAdjust="spacingAndGlyphs" transform="translate(48.80,124.00) rotate(60.64)">N. leucogenys</text>
<ellipse cx="46.70" cy="117.70" rx="1.25" ry="2.50" fill="#111" transform="rotate(-20 46.70 117.70)"/>
<line x1="58.60" y1="131.00" x2="63.20" y2="159.60" stroke="#1a1a1a" stroke-width="0.8"/>
<text x="0" y="0" font-size="4.9" fill="#3a3a3a" dominant-baseline="middle" textLength="15.89" lengthAdjust="spacingAndGlyphs" transform="translate(54.70,115.60) rotate(75.79)">H. sapiens</text>
<path d="M52.20,108.30 L56.20,112.30 M56.20,108.30 L52.20,112.30" stroke="#111" stroke-width="1.3"/><circle cx="54.20" cy="110.30" r="1.3" fill="#111"/>
<line x1="65.30" y1="139.50" x2="64.20" y2="158.60" stroke="#1a1a1a" stroke-width="0.8"/>
<text x="0" y="0" font-size="4.9" fill="#3a3a3a" dominant-baseline="middle" textLength="26.05" lengthAdjust="spacingAndGlyphs" transform="translate(65.30,139.50) rotate(-86.48)">D. novemcinctus</text>
<path d="M65.75,111.55 Q65.75,108.05 68.50,108.05 Q71.25,108.05 71.25,111.55 Z" fill="#111"/>
<line x1="71.10" y1="139.90" x2="66.50" y2="158.40" stroke="#1a1a1a" stroke-width="0.8"/>
<text x="0" y="0" font-size="4.9" fill="#3a3a3a" dominant-baseline="middle" textLength="19.58" lengthAdjust="spacingAndGlyphs" transform="translate(71.10,139.90) rotate(-70.92)">L. africana</text>
<ellipse cx="79.10" cy="116.72" rx="2.66" ry="1.68" fill="#111"/><circle cx="81.97" cy="115.76" r="1.30" fill="#111"/><path d="M77.41,117.20 L77.22,119.60 M80.85,117.20 L80.97,119.60" stroke="#111" stroke-width="0.8"/>
<line x1="75.30" y1="142.60" x2="67.00" y2="158.40" stroke="#1a1a1a" stroke-width="0.8"/>
<text x="0" y="0" font-size="4.9" fill="#3a3a3a" dominant-baseline="middle" textLength="32.45" lengthAdjust="spacingAndGlyphs" transform="translate(75.30,142.60) rotate(-56.31)">C. lupus familiaris</text>
<ellipse cx="94.90" cy="111.86" rx="2.66" ry="1.89" fill="#111"/><circle cx="97.78" cy="110.78" r="1.46" fill="#111"/><path d="M93.21,112.40 L93.03,115.10 M96.65,112.40 L96.78,115.10" stroke="#111" stroke-width="0.8"/>
<line x1="81.70" y1="144.20" x2="67.30" y2="158.40" stroke="#1a1a1a" stroke-width="0.8"/>
<text x="0" y="0" font-size="4.9" fill="#3a3a3a" dominant-baseline="middle" textLength="10.95" lengthAdjust="spacingAndGlyphs" transform="translate(81.70,144.20) rotate(-50.93)">F. catus</text>
<ellipse cx="92.80" cy="132.08" rx="2.66" ry="1.47" fill="#111"/><circle cx="95.67" cy="131.24" r="1.13" fill="#111"/><path d="M91.11,132.50 L90.92,134.60 M94.55,132.50 L94.67,134.60" stroke="#111" stroke-width="0.8"/>
<line x1="82.00" y1="148.90" x2="67.50" y2="158.40" stroke="#1a1a1a" stroke-width="0.8"/>
<text x="0" y="0" font-size="4.9" fill="#3a3a3a" dominant-baseline="middle" textLength="22.27" lengthAdjust="spacingAndGlyphs" transform="translate(82.00,148.90) rotate(-32.91)">M. lucifugus</text>
<path d="M102.00,137.80 Q103.50,136.55 105.00,138.43 Q106.50,136.55 108.00,136.55 L106.50,139.05 L103.50,139.05 Z" fill="#111"/>
<line x1="83.50" y1="152.80" x2="67.80" y2="158.40" stroke="#1a1a1a" stroke-width="0.8"/>
<text x="0" y="0" font-size="4.9" fill="#3a3a3a" dominant-baseline="middle" textLength="15.57" lengthAdjust="spacingAndGlyphs" transform="translate(83.50,152.80) rotate(-14.13)">S. scrofa</text>
<ellipse cx="102.90" cy="148.04" rx="2.66" ry="1.26" fill="#111"/><circle cx="105.78" cy="147.32" r="0.97" fill="#111"/><path d="M101.21,148.40 L101.03,150.20 M104.65,148.40 L104.78,150.20" stroke="#111" stroke-width="0.8"/>
<line x1="84.20" y1="157.20" x2="67.80" y2="158.40" stroke="#1a1a1a" stroke-width="0.8"/>
<text x="0" y="0" font-size="4.9" fill="#3a3a3a" dominant-baseline="middle" textLength="18.82" lengthAdjust="spacingAndGlyphs" transform="translate(84.20,157.20) rotate(-2.44)">E. caballus</text>
<ellipse cx="109.20" cy="154.22" rx="2.66" ry="1.68" fill="#111"/><circle cx="112.08" cy="153.26" r="1.30" fill="#111"/><path d="M107.51,154.70 L107.33,157.10 M110.95,154.70 L111.08,157.10" stroke="#111" stroke-width="0.8"/>
<line x1="84.20" y1="161.00" x2="67.80" y2="158.40" stroke="#1a1a1a" stroke-width="0.8"/>
<text x="0" y="0" font-size="4.9" fill="#3a3a3a" dominant-baseline="middle" textLength="16.50" lengthAdjust="spacingAndGlyphs" transform="translate(84.20,161.00) rotate(12.60)">B. taurus</text>
<ellipse cx="104.50" cy="164.18" rx="2.66" ry="1.47" fill="#111"/><circle cx="107.38" cy="163.34" r="1.13" fill="#111"/><path d="M102.81,164.60 L102.62,166.70 M106.25,164.60 L106.38,166.70" stroke="#111" stroke-width="0.8"/>
<line x1="83.20" y1="165.20" x2="67.80" y2="158.40" stroke="#1a1a1a" stroke-width="0.8"/>
<text x="0" y="0" font-size="4.9" fill="#3a3a3a" dominant-baseline="middle" textLength="14.13" lengthAdjust="spacingAndGlyphs" transform="translate(83.20,165.20) rotate(26.93)">O. aries</text>
<ellipse cx="98.55" cy="172.52" rx="2.39" ry="1.68" fill="#111"/><circle cx="101.14" cy="171.56" r="1.30" fill="#111"/><path d="M97.03,173.00 L96.86,175.40 M100.12,173.00 L100.24,175.40" stroke="#111" stroke-width="0.8"/>
<line x1="60.80" y1="275.00" x2="69.20" y2="263.50" stroke="#1a1a1a" stroke-width="0.8"/>
<text x="0" y="0" font-size="4.9" fill="#3a3a3a" dominant-baseline="middle" textLength="19.30" lengthAdjust="spacingAndGlyphs" transform="translate(50.00,291.00) rotate(-55.98)">A. australis</text>
<ellipse cx="47.70" cy="296.20" rx="2.10" ry="1.28" fill="#111"/><path d="M45.20,293.80 L47.20,295.80 L48.20,295.80 L50.20,293.80 L49.20,296.60 L46.20,296.60 Z" fill="#111"/>
<line x1="63.00" y1="278.50" x2="69.20" y2="263.50" stroke="#1a1a1a" stroke-width="0.8"/>
<text x="0" y="0" font-size="4.9" fill="#3a3a3a" dominant-baseline="middle" textLength="44.21" lengthAdjust="spacingAndGlyphs" transform="translate(49.20,320.50) rotate(-71.81)">A. chrysaetos canadensis</text>
<ellipse cx="47.00" cy="324.05" rx="2.31" ry="1.76" fill="#111"/><path d="M44.25,320.75 L46.45,323.50 L47.55,323.50 L49.75,320.75 L48.65,324.60 L45.35,324.60 Z" fill="#111"/>
<line x1="67.50" y1="278.50" x2="69.20" y2="263.50" stroke="#1a1a1a" stroke-width="0.8"/>
<text x="0" y="0" font-size="4.9" fill="#3a3a3a" dominant-baseline="middle" textLength="20.06" lengthAdjust="spacingAndGlyphs" transform="translate(66.00,298.50) rotate(-85.71)">M. gallopavo</text>
<ellipse cx="64.60" cy="304.60" rx="3.00" ry="2.60" fill="#111"/>
<line x1="71.50" y1="278.00" x2="69.20" y2="263.50" stroke="#1a1a1a" stroke-width="0.8"/>
<text x="0" y="0" font-size="4.9" fill="#3a3a3a" dominant-baseline="middle" textLength="15.59" lengthAdjust="spacingAndGlyphs" transform="translate(71.50,278.00) rotate(83.74)">G. gallus</text>
<ellipse cx="75.40" cy="299.50" rx="2.10" ry="1.60" fill="#111"/><path d="M72.90,296.50 L74.90,299.00 L75.90,299.00 L77.90,296.50 L76.90,300.00 L73.90,300.00 Z" fill="#111"/>
<line x1="77.00" y1="277.30" x2="69.20" y2="263.50" stroke="#1a1a1a" stroke-width="0.8"/>
<text x="0" y="0" font-size="4.9" fill="#3a3a3a" dominant-baseline="middle" textLength="23.71" lengthAdjust="spacingAndGlyphs" transform="translate(77.00,277.30) rotate(65.06)">C. picta bellii</text>
<path d="M85.75,303.95 Q85.75,300.45 88.50,300.45 Q91.25,300.45 91.25,303.95 Z" fill="#111"/>
<line x1="89.50" y1="272.00" x2="70.80" y2="247.70" stroke="#1a1a1a" stroke-width="0.8"/>
<text x="0" y="0" font-size="4.9" fill="#3a3a3a" dominant-baseline="middle" textLength="20.00" lengthAdjust="spacingAndGlyphs" transform="translate(89.50,272.00) rotate(53.13)">O. anatinus</text>
<ellipse cx="104.80" cy="291.50" rx="3.00" ry="1.25" fill="#111"/><rect x="106.80" y="291.00" width="2" height="1" fill="#111"/>
<line x1="199.50" y1="318.20" x2="69.20" y2="209.20" stroke="#1a1a1a" stroke-width="0.8"/>
<text x="0" y="0" font-size="4.9" fill="#3a3a3a" dominant-baseline="middle" textLength="26.40" lengthAdjust="spacingAndGlyphs" transform="translate(199.50,318.20) rotate(40.08)">A. carolinensis</text>
<path d="M227.9,329 C226,331 225.5,333 224.8,335 C224.2,337 223.5,339 223,341 L224,341 C225,338.5 225.6,336 226.4,334 C227,332 227.6,330.5 228.6,329.3 Z" fill="#111" stroke="#111" stroke-width="0.6"/>
<text x="6.80" y="364.00" font-size="11.6" fill="#000" font-weight="bold" textLength="7.20" lengthAdjust="spacingAndGlyphs">C</text>
<circle cx="27.90" cy="376.00" r="4.60" fill="#e2dce6" stroke="#a6b8c6" stroke-width="0.6"/>
<circle cx="49.50" cy="367.90" r="4.60" fill="#e2dce6" stroke="#a6b8c6" stroke-width="0.6"/>
<circle cx="47.80" cy="374.40" r="6.20" fill="#f6e1ea" stroke="#3d8a9e" stroke-width="0.9"/><circle cx="48.00" cy="374.60" r="4.96" fill="#e68fb0"/><circle cx="47.40" cy="374.10" r="3.10" fill="#eea6c1"/>
<circle cx="42.00" cy="365.80" r="6.40" fill="#f6e1ea" stroke="#3d8a9e" stroke-width="0.9"/><circle cx="42.20" cy="366.00" r="5.12" fill="#e68fb0"/><circle cx="41.60" cy="365.50" r="3.20" fill="#eea6c1"/>
<circle cx="31.60" cy="368.70" r="6.30" fill="#f6e1ea" stroke="#3d8a9e" stroke-width="0.9"/><circle cx="31.80" cy="368.90" r="5.04" fill="#e68fb0"/><circle cx="31.20" cy="368.40" r="3.15" fill="#eea6c1"/>
<circle cx="38.60" cy="380.20" r="6.50" fill="#f6e1ea" stroke="#3d8a9e" stroke-width="0.9"/><circle cx="38.80" cy="380.40" r="5.20" fill="#e68fb0"/><circle cx="38.20" cy="379.90" r="3.25" fill="#eea6c1"/>
<circle cx="27.40" cy="434.60" r="4.60" fill="#e2dce6" stroke="#a6b8c6" stroke-width="0.6"/>
<circle cx="49.00" cy="426.50" r="4.60" fill="#e2dce6" stroke="#a6b8c6" stroke-width="0.6"/>
<circle cx="47.30" cy="433.00" r="6.20" fill="#f6e1ea" stroke="#3d8a9e" stroke-width="0.9"/><circle cx="47.50" cy="433.20" r="4.96" fill="#e68fb0"/><circle cx="46.90" cy="432.70" r="3.10" fill="#eea6c1"/>
<circle cx="41.50" cy="424.40" r="6.40" fill="#f6e1ea" stroke="#3d8a9e" stroke-width="0.9"/><circle cx="41.70" cy="424.60" r="5.12" fill="#e68fb0"/><circle cx="41.10" cy="424.10" r="3.20" fill="#eea6c1"/>
<circle cx="31.10" cy="427.30" r="6.30" fill="#f6e1ea" stroke="#3d8a9e" stroke-width="0.9"/><circle cx="31.30" cy="427.50" r="5.04" fill="#e68fb0"/><circle cx="30.70" cy="427.00" r="3.15" fill="#eea6c1"/>
<circle cx="38.10" cy="438.80" r="6.50" fill="#f6e1ea" stroke="#3d8a9e" stroke-width="0.9"/><circle cx="38.30" cy="439.00" r="5.20" fill="#e68fb0"/><circle cx="37.70" cy="438.50" r="3.25" fill="#eea6c1"/>
<text x="60" y="365.8" font-size="8.3" fill="#c3284a" textLength="96.6" lengthAdjust="spacingAndGlyphs">LV <tspan font-style="italic">NOTCH1-ΔE</tspan> E2A <tspan font-style="italic">GFP</tspan></text>
<line x1="59.60" y1="371.50" x2="154.00" y2="371.50" stroke="#000" stroke-width="0.9"/><path d="M153.20,369.50 L157.00,371.50 L153.20,373.50 Z" fill="#000"/>
<path d="M166.7,371.3 L166.7,375.2 A12,6.2 0 0 0 190.7,375.2 L190.7,371.3 Z" fill="#a5172d"/>
<ellipse cx="178.7" cy="371.3" rx="12" ry="6.2" fill="#d84a4a"/>
<ellipse cx="178.7" cy="371.0" rx="10.9" ry="5.3" fill="#d64646" stroke="#e06464" stroke-width="0.4"/>
<path d="M166.9,372.2 A12,6.2 0 0 0 190.5,372.2" fill="none" stroke="#f2b4b4" stroke-width="0.6"/>
<path d="M168.6,375.2 L168.6,378.6 M176.2,377.4 L176.2,381.2 M188.2,375.6 L188.2,378.6" stroke="#e89090" stroke-width="0.45"/>
<text x="160.40" y="393.40" font-size="7.1" fill="#231f20" stroke="#231f20" stroke-width="0.08" textLength="32.40" lengthAdjust="spacingAndGlyphs">OP9-DLL1</text>
<line x1="195.40" y1="370.80" x2="235.50" y2="370.80" stroke="#000" stroke-width="0.9"/><path d="M234.70,368.80 L238.50,370.80 L234.70,372.80 Z" fill="#000"/>
<text x="233.70" y="365.50" font-size="8.2" fill="#231f20" stroke="#231f20" stroke-width="0.08" textLength="10.40" lengthAdjust="spacingAndGlyphs">D8</text>
<text x="205.60" y="379.90" font-size="8.3" fill="#231f20" stroke="#231f20" stroke-width="0.08" textLength="19.60" lengthAdjust="spacingAndGlyphs">FACS</text>
<text x="6.90" y="401.50" font-size="8.5" fill="#231f20" stroke="#231f20" stroke-width="0.08" textLength="70.00" lengthAdjust="spacingAndGlyphs">Human cord blood</text>
<text x="28.90" y="411.30" font-size="8.5" fill="#231f20" stroke="#231f20" stroke-width="0.08" textLength="22.50" lengthAdjust="spacingAndGlyphs">CD34</text>
<text x="51.90" y="407.60" font-size="5.6" fill="#231f20">+</text>
<line x1="60.20" y1="431.50" x2="154.30" y2="431.50" stroke="#000" stroke-width="0.9"/><path d="M153.50,429.50 L157.30,431.50 L153.50,433.50 Z" fill="#000"/>
<text x="91.30" y="427.30" font-size="8.3" fill="#231f20" stroke="#231f20" stroke-width="0.08" textLength="31.90" lengthAdjust="spacingAndGlyphs">Controls</text>
<text x="163.00" y="433.50" font-size="8.9" fill="#111" font-weight="bold" textLength="60.20" lengthAdjust="spacingAndGlyphs">Omni ATAC-seq</text>
<text x="273.5" y="359.6" font-size="9.0" fill="#c3284a" font-style="italic" textLength="54.5" lengthAdjust="spacingAndGlyphs">N1-ΔE eGFP</text>
<text x="328.40" y="356.60" font-size="6.0" fill="#c3284a">+</text>
<rect x="269.4" y="364.6" width="67.90" height="67.80" fill="none" stroke="#231f20" stroke-width="0.8"/>
<text x="260.80" y="373.80" font-size="6.9" fill="#231f20" stroke="#231f20" stroke-width="0.08" text-anchor="end">10</text>
<text x="260.90" y="370.70" font-size="4.8" fill="#231f20">5</text>
<line x1="267.20" y1="371.40" x2="269.40" y2="371.40" stroke="#231f20" stroke-width="0.8"/>
<text x="260.80" y="390.80" font-size="6.9" fill="#231f20" stroke="#231f20" stroke-width="0.08" text-anchor="end">10</text>
<text x="260.90" y="387.70" font-size="4.8" fill="#231f20">4</text>
<line x1="267.20" y1="388.40" x2="269.40" y2="388.40" stroke="#231f20" stroke-width="0.8"/>
<text x="260.80" y="408.40" font-size="6.9" fill="#231f20" stroke="#231f20" stroke-width="0.08" text-anchor="end">10</text>
<text x="260.90" y="405.30" font-size="4.8" fill="#231f20">3</text>
<line x1="267.20" y1="406.00" x2="269.40" y2="406.00" stroke="#231f20" stroke-width="0.8"/>
<text x="261.20" y="419.70" font-size="6.9" fill="#231f20" stroke="#231f20" stroke-width="0.08" text-anchor="end">0</text>
<line x1="267.20" y1="417.30" x2="269.40" y2="417.30" stroke="#231f20" stroke-width="0.8"/>
<text x="260.80" y="430.20" font-size="6.9" fill="#231f20" stroke="#231f20" stroke-width="0.08" text-anchor="end">−10</text>
<text x="260.90" y="427.10" font-size="4.8" fill="#231f20">3</text>
<line x1="267.20" y1="427.80" x2="269.40" y2="427.80" stroke="#231f20" stroke-width="0.8"/>
<line x1="268.10" y1="400.70" x2="269.40" y2="400.70" stroke="#231f20" stroke-width="0.45"/>
<line x1="268.10" y1="397.60" x2="269.40" y2="397.60" stroke="#231f20" stroke-width="0.45"/>
<line x1="268.10" y1="395.40" x2="269.40" y2="395.40" stroke="#231f20" stroke-width="0.45"/>
<line x1="268.10" y1="393.70" x2="269.40" y2="393.70" stroke="#231f20" stroke-width="0.45"/>
<line x1="268.10" y1="392.30" x2="269.40" y2="392.30" stroke="#231f20" stroke-width="0.45"/>
<line x1="268.10" y1="391.13" x2="269.40" y2="391.13" stroke="#231f20" stroke-width="0.45"/>
<line x1="268.10" y1="390.11" x2="269.40" y2="390.11" stroke="#231f20" stroke-width="0.45"/>
<line x1="268.10" y1="389.21" x2="269.40" y2="389.21" stroke="#231f20" stroke-width="0.45"/>
<line x1="268.10" y1="383.28" x2="269.40" y2="383.28" stroke="#231f20" stroke-width="0.45"/>
<line x1="268.10" y1="380.29" x2="269.40" y2="380.29" stroke="#231f20" stroke-width="0.45"/>
<line x1="268.10" y1="378.16" x2="269.40" y2="378.16" stroke="#231f20" stroke-width="0.45"/>
<line x1="268.10" y1="376.52" x2="269.40" y2="376.52" stroke="#231f20" stroke-width="0.45"/>
<line x1="268.10" y1="375.17" x2="269.40" y2="375.17" stroke="#231f20" stroke-width="0.45"/>
<line x1="268.10" y1="374.03" x2="269.40" y2="374.03" stroke="#231f20" stroke-width="0.45"/>
<line x1="268.10" y1="373.05" x2="269.40" y2="373.05" stroke="#231f20" stroke-width="0.45"/>
<line x1="268.10" y1="372.18" x2="269.40" y2="372.18" stroke="#231f20" stroke-width="0.45"/>
<line x1="268.10" y1="416.17" x2="269.40" y2="416.17" stroke="#231f20" stroke-width="0.45"/>
<line x1="268.10" y1="418.35" x2="269.40" y2="418.35" stroke="#231f20" stroke-width="0.45"/>
<line x1="268.10" y1="415.04" x2="269.40" y2="415.04" stroke="#231f20" stroke-width="0.45"/>
<line x1="268.10" y1="419.40" x2="269.40" y2="419.40" stroke="#231f20" stroke-width="0.45"/>
<line x1="268.10" y1="413.91" x2="269.40" y2="413.91" stroke="#231f20" stroke-width="0.45"/>
<line x1="268.10" y1="420.45" x2="269.40" y2="420.45" stroke="#231f20" stroke-width="0.45"/>
<line x1="268.10" y1="412.78" x2="269.40" y2="412.78" stroke="#231f20" stroke-width="0.45"/>
<line x1="268.10" y1="421.50" x2="269.40" y2="421.50" stroke="#231f20" stroke-width="0.45"/>
<line x1="268.10" y1="411.65" x2="269.40" y2="411.65" stroke="#231f20" stroke-width="0.45"/>
<line x1="268.10" y1="422.55" x2="269.40" y2="422.55" stroke="#231f20" stroke-width="0.45"/>
<line x1="268.10" y1="410.52" x2="269.40" y2="410.52" stroke="#231f20" stroke-width="0.45"/>
<line x1="268.10" y1="423.60" x2="269.40" y2="423.60" stroke="#231f20" stroke-width="0.45"/>
<line x1="268.10" y1="409.39" x2="269.40" y2="409.39" stroke="#231f20" stroke-width="0.45"/>
<line x1="268.10" y1="424.65" x2="269.40" y2="424.65" stroke="#231f20" stroke-width="0.45"/>
<line x1="268.10" y1="408.26" x2="269.40" y2="408.26" stroke="#231f20" stroke-width="0.45"/>
<line x1="268.10" y1="425.70" x2="269.40" y2="425.70" stroke="#231f20" stroke-width="0.45"/>
<line x1="268.10" y1="407.13" x2="269.40" y2="407.13" stroke="#231f20" stroke-width="0.45"/>
<line x1="268.10" y1="426.75" x2="269.40" y2="426.75" stroke="#231f20" stroke-width="0.45"/>
<line x1="301.25" y1="432.40" x2="301.25" y2="433.80" stroke="#231f20" stroke-width="0.45"/>
<line x1="304.61" y1="432.40" x2="304.61" y2="433.80" stroke="#231f20" stroke-width="0.45"/>
<line x1="307.00" y1="432.40" x2="307.00" y2="433.80" stroke="#231f20" stroke-width="0.45"/>
<line x1="308.85" y1="432.40" x2="308.85" y2="433.80" stroke="#231f20" stroke-width="0.45"/>
<line x1="310.36" y1="432.40" x2="310.36" y2="433.80" stroke="#231f20" stroke-width="0.45"/>
<line x1="311.64" y1="432.40" x2="311.64" y2="433.80" stroke="#231f20" stroke-width="0.45"/>
<line x1="312.75" y1="432.40" x2="312.75" y2="433.80" stroke="#231f20" stroke-width="0.45"/>
<line x1="313.73" y1="432.40" x2="313.73" y2="433.80" stroke="#231f20" stroke-width="0.45"/>
<line x1="319.60" y1="432.40" x2="319.60" y2="433.80" stroke="#231f20" stroke-width="0.45"/>
<line x1="322.52" y1="432.40" x2="322.52" y2="433.80" stroke="#231f20" stroke-width="0.45"/>
<line x1="324.59" y1="432.40" x2="324.59" y2="433.80" stroke="#231f20" stroke-width="0.45"/>
<line x1="326.20" y1="432.40" x2="326.20" y2="433.80" stroke="#231f20" stroke-width="0.45"/>
<line x1="327.52" y1="432.40" x2="327.52" y2="433.80" stroke="#231f20" stroke-width="0.45"/>
<line x1="328.63" y1="432.40" x2="328.63" y2="433.80" stroke="#231f20" stroke-width="0.45"/>
<line x1="329.59" y1="432.40" x2="329.59" y2="433.80" stroke="#231f20" stroke-width="0.45"/>
<line x1="330.44" y1="432.40" x2="330.44" y2="433.80" stroke="#231f20" stroke-width="0.45"/>
<line x1="285.87" y1="432.40" x2="285.87" y2="433.80" stroke="#231f20" stroke-width="0.45"/>
<line x1="283.52" y1="432.40" x2="283.52" y2="433.80" stroke="#231f20" stroke-width="0.45"/>
<line x1="286.94" y1="432.40" x2="286.94" y2="433.80" stroke="#231f20" stroke-width="0.45"/>
<line x1="282.24" y1="432.40" x2="282.24" y2="433.80" stroke="#231f20" stroke-width="0.45"/>
<line x1="288.01" y1="432.40" x2="288.01" y2="433.80" stroke="#231f20" stroke-width="0.45"/>
<line x1="280.96" y1="432.40" x2="280.96" y2="433.80" stroke="#231f20" stroke-width="0.45"/>
<line x1="289.08" y1="432.40" x2="289.08" y2="433.80" stroke="#231f20" stroke-width="0.45"/>
<line x1="279.68" y1="432.40" x2="279.68" y2="433.80" stroke="#231f20" stroke-width="0.45"/>
<line x1="290.15" y1="432.40" x2="290.15" y2="433.80" stroke="#231f20" stroke-width="0.45"/>
<line x1="278.40" y1="432.40" x2="278.40" y2="433.80" stroke="#231f20" stroke-width="0.45"/>
<line x1="291.22" y1="432.40" x2="291.22" y2="433.80" stroke="#231f20" stroke-width="0.45"/>
<line x1="277.12" y1="432.40" x2="277.12" y2="433.80" stroke="#231f20" stroke-width="0.45"/>
<line x1="292.29" y1="432.40" x2="292.29" y2="433.80" stroke="#231f20" stroke-width="0.45"/>
<line x1="275.84" y1="432.40" x2="275.84" y2="433.80" stroke="#231f20" stroke-width="0.45"/>
<line x1="293.36" y1="432.40" x2="293.36" y2="433.80" stroke="#231f20" stroke-width="0.45"/>
<line x1="274.56" y1="432.40" x2="274.56" y2="433.80" stroke="#231f20" stroke-width="0.45"/>
<line x1="294.43" y1="432.40" x2="294.43" y2="433.80" stroke="#231f20" stroke-width="0.45"/>
<line x1="273.28" y1="432.40" x2="273.28" y2="433.80" stroke="#231f20" stroke-width="0.45"/>
<rect x="268.09999999999997" y="415.9" width="1.5" height="2.8" fill="#000"/>
<text x="0" y="0" font-size="7.0" fill="#231f20" text-anchor="middle" dominant-baseline="middle" textLength="17.3" lengthAdjust="spacingAndGlyphs" transform="translate(243.8,401.5) rotate(-90)">CD34</text>
<rect x="284.0" y="432.2" width="2.2" height="1.8" fill="#000"/>
<text x="262.80" y="443.90" font-size="6.9" fill="#231f20" stroke="#231f20" stroke-width="0.08">−10</text>
<text x="274.60" y="440.50" font-size="4.8" fill="#231f20">3</text>
<text x="282.70" y="443.90" font-size="6.9" fill="#231f20" stroke="#231f20" stroke-width="0.08">0</text>
<text x="290.50" y="443.90" font-size="6.9" fill="#231f20" stroke="#231f20" stroke-width="0.08">10</text>
<text x="298.27" y="440.50" font-size="4.8" fill="#231f20">3</text>
<text x="309.50" y="443.90" font-size="6.9" fill="#231f20" stroke="#231f20" stroke-width="0.08">10</text>
<text x="317.27" y="440.50" font-size="4.8" fill="#231f20">4</text>
<text x="326.00" y="443.90" font-size="6.9" fill="#231f20" stroke="#231f20" stroke-width="0.08">10</text>
<text x="333.77" y="440.50" font-size="4.8" fill="#231f20">5</text>
<text x="263.70" y="454.20" font-size="8.6" fill="#231f20" stroke="#231f20" stroke-width="0.08" textLength="21.10" lengthAdjust="spacingAndGlyphs">CD38</text>
<line x1="285.10" y1="450.60" x2="333.00" y2="450.60" stroke="#000" stroke-width="0.8"/><path d="M332.20,448.60 L336.00,450.60 L332.20,452.60 Z" fill="#000"/>
<rect x="302.2" y="408.9" width="26.7" height="15.7" fill="none" stroke="#231f20" stroke-width="0.65"/>
<defs><radialGradient id="bl1" cx="0.45" cy="0.5" r="0.5"><stop offset="0" stop-color="#000"/><stop offset="0.55" stop-color="#0a0a0a"/><stop offset="0.78" stop-color="#555"/><stop offset="0.92" stop-color="#aaa"/><stop offset="1" stop-color="#ddd"/></radialGradient></defs>
<path d="M303.5,413.5 Q304,410.6 309,410.7 L320,410.9 Q325.4,411.3 325.4,416.4 Q325.4,421.8 320,421.9 L309,422 Q303.6,422.1 302.2,419 Q301.4,416.5 303.5,413.5 Z" fill="url(#bl1)" stroke="#777" stroke-width="0.4"/>
<line x1="306.50" y1="416.60" x2="320.00" y2="416.60" stroke="#cfcfcf" stroke-width="0.5"/>
<path d="M300.5,415 A2.3,2.2 0 1 0 300.6,419" fill="none" stroke="#444" stroke-width="0.45"/>
<text x="327.80" y="430.60" font-size="5.2" fill="#231f20" textLength="7.00" lengthAdjust="spacingAndGlyphs">90</text>
<g fill="#aaa"><circle cx="314" cy="388" r="0.4"/><circle cx="316" cy="395" r="0.4"/><circle cx="313" cy="397" r="0.4"/><circle cx="318" cy="396" r="0.35"/></g>
<text x="371.90" y="360.60" font-size="9.0" fill="#231f20" stroke="#231f20" stroke-width="0.08" textLength="23.20" lengthAdjust="spacingAndGlyphs">CD34</text>
<text x="395.80" y="357.60" font-size="6.4" fill="#231f20">−</text>
<text x="402.50" y="360.60" font-size="9.0" fill="#231f20" stroke="#231f20" stroke-width="0.08" textLength="23.00" lengthAdjust="spacingAndGlyphs">CD38</text>
<text x="426.40" y="357.40" font-size="6.2" fill="#231f20">+</text>
<rect x="367.4" y="365.4" width="69.30" height="67.30" fill="none" stroke="#231f20" stroke-width="0.8"/>
<text x="358.80" y="373.80" font-size="6.9" fill="#231f20" stroke="#231f20" stroke-width="0.08" text-anchor="end">10</text>
<text x="358.90" y="370.70" font-size="4.8" fill="#231f20">5</text>
<line x1="365.20" y1="371.40" x2="367.40" y2="371.40" stroke="#231f20" stroke-width="0.8"/>
<text x="358.80" y="390.80" font-size="6.9" fill="#231f20" stroke="#231f20" stroke-width="0.08" text-anchor="end">10</text>
<text x="358.90" y="387.70" font-size="4.8" fill="#231f20">4</text>
<line x1="365.20" y1="388.40" x2="367.40" y2="388.40" stroke="#231f20" stroke-width="0.8"/>
<text x="358.80" y="408.40" font-size="6.9" fill="#231f20" stroke="#231f20" stroke-width="0.08" text-anchor="end">10</text>
<text x="358.90" y="405.30" font-size="4.8" fill="#231f20">3</text>
<line x1="365.20" y1="406.00" x2="367.40" y2="406.00" stroke="#231f20" stroke-width="0.8"/>
<text x="359.20" y="419.70" font-size="6.9" fill="#231f20" stroke="#231f20" stroke-width="0.08" text-anchor="end">0</text>
<line x1="365.20" y1="417.30" x2="367.40" y2="417.30" stroke="#231f20" stroke-width="0.8"/>
<text x="358.80" y="430.20" font-size="6.9" fill="#231f20" stroke="#231f20" stroke-width="0.08" text-anchor="end">−10</text>
<text x="358.90" y="427.10" font-size="4.8" fill="#231f20">3</text>
<line x1="365.20" y1="427.80" x2="367.40" y2="427.80" stroke="#231f20" stroke-width="0.8"/>
<line x1="366.10" y1="400.70" x2="367.40" y2="400.70" stroke="#231f20" stroke-width="0.45"/>
<line x1="366.10" y1="397.60" x2="367.40" y2="397.60" stroke="#231f20" stroke-width="0.45"/>
<line x1="366.10" y1="395.40" x2="367.40" y2="395.40" stroke="#231f20" stroke-width="0.45"/>
<line x1="366.10" y1="393.70" x2="367.40" y2="393.70" stroke="#231f20" stroke-width="0.45"/>
<line x1="366.10" y1="392.30" x2="367.40" y2="392.30" stroke="#231f20" stroke-width="0.45"/>
<line x1="366.10" y1="391.13" x2="367.40" y2="391.13" stroke="#231f20" stroke-width="0.45"/>
<line x1="366.10" y1="390.11" x2="367.40" y2="390.11" stroke="#231f20" stroke-width="0.45"/>
<line x1="366.10" y1="389.21" x2="367.40" y2="389.21" stroke="#231f20" stroke-width="0.45"/>
<line x1="366.10" y1="383.28" x2="367.40" y2="383.28" stroke="#231f20" stroke-width="0.45"/>
<line x1="366.10" y1="380.29" x2="367.40" y2="380.29" stroke="#231f20" stroke-width="0.45"/>
<line x1="366.10" y1="378.16" x2="367.40" y2="378.16" stroke="#231f20" stroke-width="0.45"/>
<line x1="366.10" y1="376.52" x2="367.40" y2="376.52" stroke="#231f20" stroke-width="0.45"/>
<line x1="366.10" y1="375.17" x2="367.40" y2="375.17" stroke="#231f20" stroke-width="0.45"/>
<line x1="366.10" y1="374.03" x2="367.40" y2="374.03" stroke="#231f20" stroke-width="0.45"/>
<line x1="366.10" y1="373.05" x2="367.40" y2="373.05" stroke="#231f20" stroke-width="0.45"/>
<line x1="366.10" y1="372.18" x2="367.40" y2="372.18" stroke="#231f20" stroke-width="0.45"/>
<line x1="366.10" y1="416.17" x2="367.40" y2="416.17" stroke="#231f20" stroke-width="0.45"/>
<line x1="366.10" y1="418.35" x2="367.40" y2="418.35" stroke="#231f20" stroke-width="0.45"/>
<line x1="366.10" y1="415.04" x2="367.40" y2="415.04" stroke="#231f20" stroke-width="0.45"/>
<line x1="366.10" y1="419.40" x2="367.40" y2="419.40" stroke="#231f20" stroke-width="0.45"/>
<line x1="366.10" y1="413.91" x2="367.40" y2="413.91" stroke="#231f20" stroke-width="0.45"/>
<line x1="366.10" y1="420.45" x2="367.40" y2="420.45" stroke="#231f20" stroke-width="0.45"/>
<line x1="366.10" y1="412.78" x2="367.40" y2="412.78" stroke="#231f20" stroke-width="0.45"/>
<line x1="366.10" y1="421.50" x2="367.40" y2="421.50" stroke="#231f20" stroke-width="0.45"/>
<line x1="366.10" y1="411.65" x2="367.40" y2="411.65" stroke="#231f20" stroke-width="0.45"/>
<line x1="366.10" y1="422.55" x2="367.40" y2="422.55" stroke="#231f20" stroke-width="0.45"/>
<line x1="366.10" y1="410.52" x2="367.40" y2="410.52" stroke="#231f20" stroke-width="0.45"/>
<line x1="366.10" y1="423.60" x2="367.40" y2="423.60" stroke="#231f20" stroke-width="0.45"/>
<line x1="366.10" y1="409.39" x2="367.40" y2="409.39" stroke="#231f20" stroke-width="0.45"/>
<line x1="366.10" y1="424.65" x2="367.40" y2="424.65" stroke="#231f20" stroke-width="0.45"/>
<line x1="366.10" y1="408.26" x2="367.40" y2="408.26" stroke="#231f20" stroke-width="0.45"/>
<line x1="366.10" y1="425.70" x2="367.40" y2="425.70" stroke="#231f20" stroke-width="0.45"/>
<line x1="366.10" y1="407.13" x2="367.40" y2="407.13" stroke="#231f20" stroke-width="0.45"/>
<line x1="366.10" y1="426.75" x2="367.40" y2="426.75" stroke="#231f20" stroke-width="0.45"/>
<line x1="401.56" y1="432.70" x2="401.56" y2="434.10" stroke="#231f20" stroke-width="0.45"/>
<line x1="403.94" y1="432.70" x2="403.94" y2="434.10" stroke="#231f20" stroke-width="0.45"/>
<line x1="405.63" y1="432.70" x2="405.63" y2="434.10" stroke="#231f20" stroke-width="0.45"/>
<line x1="406.94" y1="432.70" x2="406.94" y2="434.10" stroke="#231f20" stroke-width="0.45"/>
<line x1="408.01" y1="432.70" x2="408.01" y2="434.10" stroke="#231f20" stroke-width="0.45"/>
<line x1="408.91" y1="432.70" x2="408.91" y2="434.10" stroke="#231f20" stroke-width="0.45"/>
<line x1="409.69" y1="432.70" x2="409.69" y2="434.10" stroke="#231f20" stroke-width="0.45"/>
<line x1="410.38" y1="432.70" x2="410.38" y2="434.10" stroke="#231f20" stroke-width="0.45"/>
<line x1="415.46" y1="432.70" x2="415.46" y2="434.10" stroke="#231f20" stroke-width="0.45"/>
<line x1="418.06" y1="432.70" x2="418.06" y2="434.10" stroke="#231f20" stroke-width="0.45"/>
<line x1="419.91" y1="432.70" x2="419.91" y2="434.10" stroke="#231f20" stroke-width="0.45"/>
<line x1="421.34" y1="432.70" x2="421.34" y2="434.10" stroke="#231f20" stroke-width="0.45"/>
<line x1="422.52" y1="432.70" x2="422.52" y2="434.10" stroke="#231f20" stroke-width="0.45"/>
<line x1="423.51" y1="432.70" x2="423.51" y2="434.10" stroke="#231f20" stroke-width="0.45"/>
<line x1="424.37" y1="432.70" x2="424.37" y2="434.10" stroke="#231f20" stroke-width="0.45"/>
<line x1="425.12" y1="432.70" x2="425.12" y2="434.10" stroke="#231f20" stroke-width="0.45"/>
<line x1="379.32" y1="432.70" x2="379.32" y2="434.10" stroke="#231f20" stroke-width="0.45"/>
<line x1="376.52" y1="432.70" x2="376.52" y2="434.10" stroke="#231f20" stroke-width="0.45"/>
<line x1="381.34" y1="432.70" x2="381.34" y2="434.10" stroke="#231f20" stroke-width="0.45"/>
<line x1="375.74" y1="432.70" x2="375.74" y2="434.10" stroke="#231f20" stroke-width="0.45"/>
<line x1="383.36" y1="432.70" x2="383.36" y2="434.10" stroke="#231f20" stroke-width="0.45"/>
<line x1="374.96" y1="432.70" x2="374.96" y2="434.10" stroke="#231f20" stroke-width="0.45"/>
<line x1="385.38" y1="432.70" x2="385.38" y2="434.10" stroke="#231f20" stroke-width="0.45"/>
<line x1="374.18" y1="432.70" x2="374.18" y2="434.10" stroke="#231f20" stroke-width="0.45"/>
<line x1="387.40" y1="432.70" x2="387.40" y2="434.10" stroke="#231f20" stroke-width="0.45"/>
<line x1="373.40" y1="432.70" x2="373.40" y2="434.10" stroke="#231f20" stroke-width="0.45"/>
<line x1="389.42" y1="432.70" x2="389.42" y2="434.10" stroke="#231f20" stroke-width="0.45"/>
<line x1="372.62" y1="432.70" x2="372.62" y2="434.10" stroke="#231f20" stroke-width="0.45"/>
<line x1="391.44" y1="432.70" x2="391.44" y2="434.10" stroke="#231f20" stroke-width="0.45"/>
<line x1="371.84" y1="432.70" x2="371.84" y2="434.10" stroke="#231f20" stroke-width="0.45"/>
<line x1="393.46" y1="432.70" x2="393.46" y2="434.10" stroke="#231f20" stroke-width="0.45"/>
<line x1="371.06" y1="432.70" x2="371.06" y2="434.10" stroke="#231f20" stroke-width="0.45"/>
<line x1="395.48" y1="432.70" x2="395.48" y2="434.10" stroke="#231f20" stroke-width="0.45"/>
<line x1="370.28" y1="432.70" x2="370.28" y2="434.10" stroke="#231f20" stroke-width="0.45"/>
<rect x="366.09999999999997" y="415.9" width="1.5" height="2.8" fill="#000"/>
<text x="0" y="0" font-size="7.0" fill="#231f20" text-anchor="middle" dominant-baseline="middle" textLength="13.6" lengthAdjust="spacingAndGlyphs" transform="translate(344.3,401.2) rotate(-90)">CD5</text>
<text x="375.40" y="443.90" font-size="6.9" fill="#231f20" stroke="#231f20" stroke-width="0.08">0</text>
<text x="393.10" y="443.90" font-size="6.9" fill="#231f20" stroke="#231f20" stroke-width="0.08">10</text>
<text x="400.87" y="440.50" font-size="4.8" fill="#231f20">3</text>
<text x="406.30" y="443.90" font-size="6.9" fill="#231f20" stroke="#231f20" stroke-width="0.08">10</text>
<text x="414.07" y="440.50" font-size="4.8" fill="#231f20">4</text>
<text x="420.80" y="443.90" font-size="6.9" fill="#231f20" stroke="#231f20" stroke-width="0.08">10</text>
<text x="428.57" y="440.50" font-size="4.8" fill="#231f20">5</text>
<text x="366.20" y="454.20" font-size="8.6" fill="#231f20" stroke="#231f20" stroke-width="0.08" textLength="16.10" lengthAdjust="spacingAndGlyphs">CD7</text>
<line x1="382.60" y1="450.60" x2="432.40" y2="450.60" stroke="#000" stroke-width="0.8"/><path d="M431.60,448.60 L435.40,450.60 L431.60,452.60 Z" fill="#000"/>
<path d="M417,389 C421,389.2 423.6,393 423.4,400 C423.2,407 423.4,414 422.6,419 C421.8,423.5 417.5,425.6 413,425.2 C409,424.8 406.2,422 405.6,417 C405.2,412 405.8,406 407.2,401 C408.6,395 411.8,388.8 417,389 Z" fill="#c9c9c9" stroke="#555" stroke-width="0.5"/>
<path d="M417,391.5 C420,391.8 421.6,395 421.5,401 C421.4,407 421.4,413 420.8,418 C420,422 416.8,423.6 413.2,423.2 C410,422.8 407.8,420.5 407.6,416.5 C407.4,412 408.4,407 409.6,402 C410.8,396.5 413.4,391.3 417,391.5 Z" fill="#a5a5a5"/>
<path d="M415.4,404 C418.5,404.5 419.8,409 419.8,414 C419.8,418.5 418,421.5 415.2,421.5 C412.5,421.5 410.9,419 411,415 C411.1,410 412.5,403.6 415.4,404 Z" fill="#8a8a8a"/>
<path d="M411.8,402.5 C409.2,406.5 407.8,413 408.5,418.5 C409.3,422.6 412.4,424.2 415.6,424 C419.1,423.7 421.4,421.2 421.8,416.6 C422.1,412 421.5,407.5 420.6,404.3 L419.2,405 C419.7,408.8 420,413 419.6,416.6 C419.2,419.6 417.6,421.3 415.3,421.3 C413.1,421.3 411.6,420 411.3,417.6 C410.9,413.5 411.6,408.2 413.4,404 Z" fill="#141414"/>
<path d="M415.6,393.5 C416.6,394 416.9,399 416.9,404 C416.9,410 417.2,415 416.4,418.2 C415.9,419.4 414.9,419.2 414.8,417.8 C414.6,414 415.2,409 415.1,404 C415,399 414.9,394.2 415.6,393.5 Z" fill="#e2e2e2"/>
<rect x="402.1" y="406.2" width="23.1" height="22.3" fill="none" stroke="#231f20" stroke-width="0.6"/>
<text x="426.50" y="430.60" font-size="5.2" fill="#231f20" textLength="6.70" lengthAdjust="spacingAndGlyphs">66</text>
<line x1="438.70" y1="387.50" x2="452.60" y2="387.50" stroke="#000" stroke-width="0.9"/><path d="M451.80,385.50 L455.60,387.50 L451.80,389.50 Z" fill="#000"/>
<line x1="460.80" y1="369.10" x2="513.00" y2="369.10" stroke="#231f20" stroke-width="0.9"/>
<line x1="460.80" y1="387.30" x2="513.00" y2="387.30" stroke="#231f20" stroke-width="0.9"/>
<line x1="460.80" y1="405.90" x2="513.00" y2="405.90" stroke="#231f20" stroke-width="0.9"/>
<path d="M465.80,369.1 L466.95,367.60 L467.35,362.40 L467.65,362.40 L468.05,367.60 L469.20,369.1 Z" fill="#c8102e"/>
<path d="M472.10,369.1 L473.25,367.60 L473.65,357.00 L473.95,357.00 L474.35,367.60 L475.50,369.1 Z" fill="#111"/>
<path d="M478.60,369.1 L479.75,367.60 L480.15,362.40 L480.45,362.40 L480.85,367.60 L482.00,369.1 Z" fill="#111"/>
<path d="M487.30,369.1 L488.45,367.60 L488.85,357.40 L489.15,357.40 L489.55,367.60 L490.70,369.1 Z" fill="#111"/>
<path d="M494.10,369.1 L495.25,367.60 L495.65,365.00 L495.95,365.00 L496.35,367.60 L497.50,369.1 Z" fill="#111"/>
<path d="M501.50,369.1 L502.65,367.60 L503.05,357.00 L503.35,357.00 L503.75,367.60 L504.90,369.1 Z" fill="#c8102e"/>
<path d="M472.10,387.3 L473.25,385.80 L473.65,375.20 L473.95,375.20 L474.35,385.80 L475.50,387.3 Z" fill="#111"/>
<path d="M478.60,387.3 L479.75,385.80 L480.15,380.60 L480.45,380.60 L480.85,385.80 L482.00,387.3 Z" fill="#111"/>
<path d="M487.30,387.3 L488.45,385.80 L488.85,375.20 L489.15,375.20 L489.55,385.80 L490.70,387.3 Z" fill="#111"/>
<path d="M494.10,387.3 L495.25,385.80 L495.65,382.60 L495.95,382.60 L496.35,385.80 L497.50,387.3 Z" fill="#111"/>
<path d="M472.10,405.9 L473.25,404.40 L473.65,392.70 L473.95,392.70 L474.35,404.40 L475.50,405.9 Z" fill="#111"/>
<path d="M494.10,405.9 L495.25,404.40 L495.65,401.40 L495.95,401.40 L496.35,404.40 L497.50,405.9 Z" fill="#111"/>
<text x="460.90" y="415.90" font-size="7.7" fill="#1a1a1a" font-weight="bold" textLength="53.00" lengthAdjust="spacingAndGlyphs">Omni ATAC-seq</text>
<text x="6.40" y="470.40" font-size="11.5" fill="#000" font-weight="bold">D</text>
<text x="155" y="476.6" font-size="9.3" fill="#231f20" textLength="245.7" lengthAdjust="spacingAndGlyphs">GOBP of accessibility induced in human cells by <tspan fill="#c3284a" font-style="italic">NOTCH1</tspan></text>
<rect x="355.9" y="488.80" width="72.70" height="11.7" fill="#c8102e"/>
<text x="351.90" y="496.70" font-size="8.0" fill="#231f20" stroke="#231f20" stroke-width="0.08" text-anchor="end" textLength="192.00" lengthAdjust="spacingAndGlyphs">Immune response-activating cell surface rec. sig. path.</text>
<rect x="355.9" y="503.73" width="47.30" height="11.7" fill="#c8102e"/>
<text x="351.90" y="511.63" font-size="8.0" fill="#231f20" stroke="#231f20" stroke-width="0.08" text-anchor="end" textLength="163.20" lengthAdjust="spacingAndGlyphs">Antigen receptor-mediated signaling pathway</text>
<rect x="355.9" y="518.66" width="43.40" height="11.7" fill="#c8102e"/>
<text x="351.90" y="526.56" font-size="8.0" fill="#231f20" stroke="#231f20" stroke-width="0.08" text-anchor="end" textLength="117.30" lengthAdjust="spacingAndGlyphs">T cell receptor signaling pathway</text>
<rect x="355.9" y="533.59" width="37.60" height="11.7" fill="#c8102e"/>
<text x="351.90" y="541.49" font-size="8.0" fill="#231f20" stroke="#231f20" stroke-width="0.08" text-anchor="end" textLength="178.00" lengthAdjust="spacingAndGlyphs">Leukocyte activation involved in immune response</text>
<rect x="355.9" y="548.52" width="33.00" height="11.7" fill="#c8102e"/>
<text x="351.90" y="556.42" font-size="8.0" fill="#231f20" stroke="#231f20" stroke-width="0.08" text-anchor="end" textLength="137.60" lengthAdjust="spacingAndGlyphs">FC-gamma receptor signaling pathway</text>
<rect x="355.9" y="563.45" width="25.60" height="11.7" fill="#c8102e"/>
<text x="351.90" y="571.35" font-size="8.0" fill="#231f20" stroke="#231f20" stroke-width="0.08" text-anchor="end" textLength="145.60" lengthAdjust="spacingAndGlyphs">Regulation of alpha-beta T cell activation</text>
<rect x="355.9" y="578.38" width="21.40" height="11.7" fill="#c8102e"/>
<text x="351.90" y="586.28" font-size="8.0" fill="#231f20" stroke="#231f20" stroke-width="0.08" text-anchor="end" textLength="175.80" lengthAdjust="spacingAndGlyphs">Positive regulation of mitochondrion organization</text>
<rect x="355.9" y="593.31" width="19.80" height="11.7" fill="#c8102e"/>
<text x="351.90" y="601.21" font-size="8.0" fill="#231f20" stroke="#231f20" stroke-width="0.08" text-anchor="end" textLength="140.80" lengthAdjust="spacingAndGlyphs">Regulation of defense response to virus</text>
<rect x="355.9" y="608.24" width="18.30" height="11.7" fill="#c8102e"/>
<text x="351.90" y="616.14" font-size="8.0" fill="#231f20" stroke="#231f20" stroke-width="0.08" text-anchor="end" textLength="209.00" lengthAdjust="spacingAndGlyphs">Pos. reg. of protein insertion into mitochondrial membrane</text>
<rect x="355.9" y="623.17" width="16.90" height="11.7" fill="#c8102e"/>
<text x="351.90" y="631.07" font-size="8.0" fill="#231f20" stroke="#231f20" stroke-width="0.08" text-anchor="end" textLength="221.70" lengthAdjust="spacingAndGlyphs">Regulation of mitochondrial outer membrane permeabilization</text>
<line x1="355.50" y1="485.80" x2="355.50" y2="642.60" stroke="#231f20" stroke-width="0.9"/>
<line x1="355.10" y1="642.30" x2="428.20" y2="642.30" stroke="#231f20" stroke-width="0.9"/>
<line x1="355.70" y1="642.30" x2="355.70" y2="644.60" stroke="#231f20" stroke-width="0.8"/>
<text x="355.70" y="652.70" font-size="6.9" fill="#231f20" stroke="#231f20" stroke-width="0.08" text-anchor="middle">0</text>
<line x1="367.72" y1="642.30" x2="367.72" y2="644.60" stroke="#231f20" stroke-width="0.8"/>
<text x="367.72" y="652.70" font-size="6.9" fill="#231f20" stroke="#231f20" stroke-width="0.08" text-anchor="middle">20</text>
<line x1="379.74" y1="642.30" x2="379.74" y2="644.60" stroke="#231f20" stroke-width="0.8"/>
<text x="379.74" y="652.70" font-size="6.9" fill="#231f20" stroke="#231f20" stroke-width="0.08" text-anchor="middle">40</text>
<line x1="391.76" y1="642.30" x2="391.76" y2="644.60" stroke="#231f20" stroke-width="0.8"/>
<text x="391.76" y="652.70" font-size="6.9" fill="#231f20" stroke="#231f20" stroke-width="0.08" text-anchor="middle">60</text>
<line x1="403.78" y1="642.30" x2="403.78" y2="644.60" stroke="#231f20" stroke-width="0.8"/>
<text x="403.78" y="652.70" font-size="6.9" fill="#231f20" stroke="#231f20" stroke-width="0.08" text-anchor="middle">80</text>
<line x1="415.80" y1="642.30" x2="415.80" y2="644.60" stroke="#231f20" stroke-width="0.8"/>
<text x="415.80" y="652.70" font-size="6.9" fill="#231f20" stroke="#231f20" stroke-width="0.08" text-anchor="middle">100</text>
<line x1="427.82" y1="642.30" x2="427.82" y2="644.60" stroke="#231f20" stroke-width="0.8"/>
<text x="427.82" y="652.70" font-size="6.9" fill="#231f20" stroke="#231f20" stroke-width="0.08" text-anchor="middle">120</text>
<text x="377" y="663" font-size="8.2" fill="#231f20">-log<tspan font-size="5.8" dy="2.2">10</tspan><tspan dy="-2.2">(P)</tspan></text>
<rect x="0" y="0" width="520" height="1" fill="#000"/><rect x="0" y="0" width="1" height="675" fill="#000"/><rect x="519" y="0" width="1" height="675" fill="#000"/><rect x="0" y="673.75" width="520" height="1.25" fill="#000"/>
</svg>
</body></html>
